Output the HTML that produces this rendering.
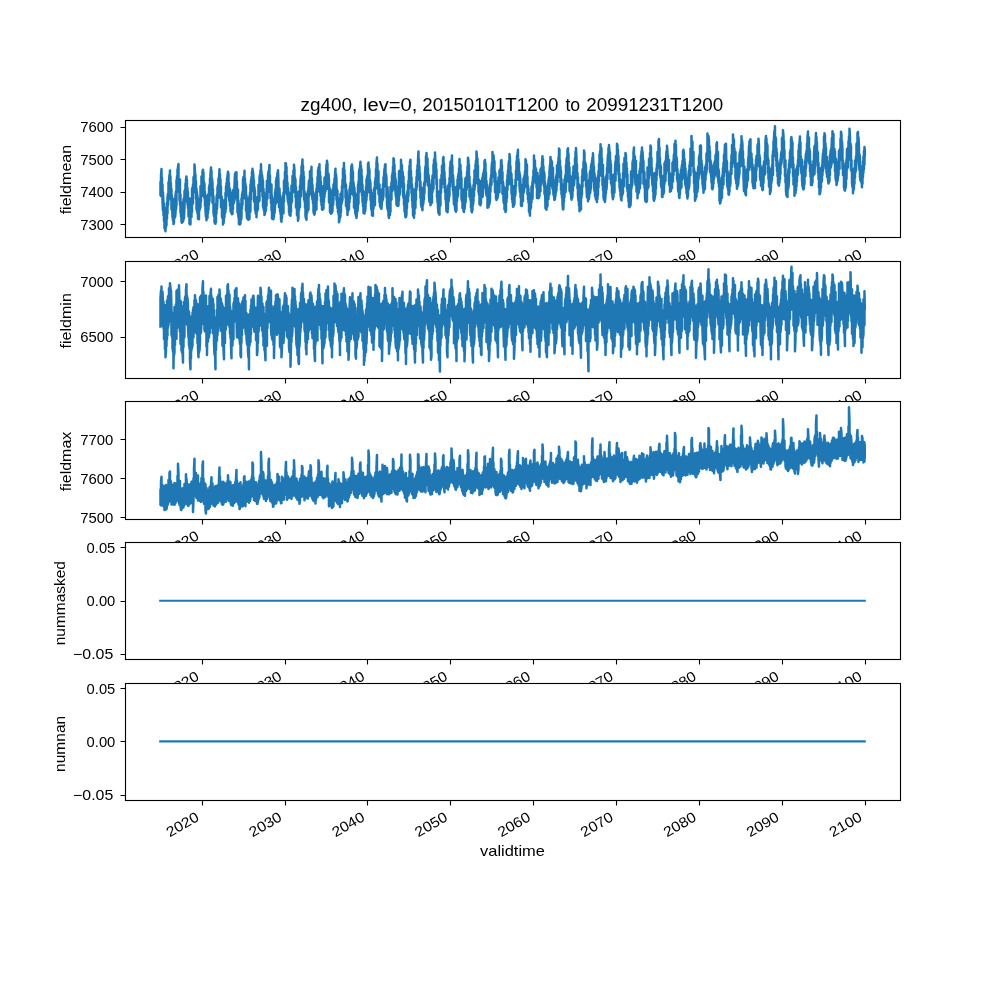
<!DOCTYPE html>
<html lang="en"><head><meta charset="utf-8"><title>zg400 field statistics</title>
<style>
html,body{margin:0;padding:0;background:#fff;}
body{width:1000px;height:1000px;overflow:hidden;font-family:"Liberation Sans",sans-serif;}
svg{display:block;}
svg text{font-family:"Liberation Sans",sans-serif;fill:#000;filter:grayscale(1);}
.t{font-size:14.3px;}
.ti{font-size:17.6px;}
.sp{fill:none;stroke:#000;stroke-width:1.111;stroke-linejoin:miter;}
.tk{stroke:#000;stroke-width:1.111;fill:none;}
.ln{fill:none;stroke:#1f77b4;stroke-width:2.083;stroke-linejoin:round;stroke-linecap:square;}
</style></head>
<body>
<svg width="1000" height="1000" viewBox="0 0 1000 1000">
<rect width="1000" height="1000" fill="#fff"/>
<g id="ax0">
<rect x="125.0" y="120.00" width="775.0" height="117.24" fill="#fff"/>
<path class="ln" style="stroke-width:2.5" d="M160.48,194.6 160.48,181.9 160.99,195.9 160.99,175.5 161.49,169 161.49,185.2 161.99,177.8 161.99,193.7 162.49,184.4 162.49,201.1 162.98,210.5 162.98,192.3 163.48,202.9 163.48,215.2 163.98,203.7 163.98,221.1 164.48,207.6 164.48,228.1 164.98,210.9 164.98,229 165.48,231.2 165.48,221.4 165.98,227.2 165.98,217.1 166.48,225.3 166.48,208.6 166.98,218.7 166.98,202.6 167.48,213.5 167.48,197.4 167.98,193.7 167.98,205.7 168.48,197.8 168.48,182.4 168.98,196.8 168.98,182.1 169.48,175 169.48,189.6 169.97,170.5 169.97,189.6 170.47,176.6 170.47,191.4 170.97,183.5 170.97,199.8 171.47,189.2 171.47,208.9 171.97,210.4 171.97,196 172.47,217.2 172.47,201.5 172.97,220.5 172.97,207.7 173.47,209.5 173.47,224 173.97,222.5 173.97,205.6 174.47,215.1 174.47,198.7 174.97,202.4 174.97,217.6 175.47,214.1 175.47,196.3 175.98,191.2 175.98,209.9 176.49,203.8 176.49,180.1 176.99,190.6 176.99,176.5 177.49,187.2 177.49,169.6 177.99,184.7 177.99,166.9 178.48,164.1 178.48,189.2 178.98,181.3 178.98,192.3 179.48,183.1 179.48,200.5 179.98,179.5 179.98,204.8 180.48,194.5 180.48,212.6 180.98,202.3 180.98,216.7 181.48,206.1 181.48,222 181.98,222.8 181.98,207.3 182.48,220.2 182.48,203.1 182.98,221.4 182.98,206.6 183.48,219.9 183.48,199.8 183.98,198 183.98,218.1 184.48,206.3 184.48,191.3 184.98,201.8 184.98,190.1 185.47,193.6 185.47,183.8 185.97,191.8 185.97,179.9 186.47,176.5 186.47,195.7 186.97,180 186.97,201.6 187.47,188.1 187.47,204.6 187.97,192 187.97,208.1 188.47,200.4 188.47,216.2 188.97,198.2 188.97,214.9 189.47,205.7 189.47,223.8 189.97,219.4 189.97,208.9 190.47,224.4 190.47,206.2 190.97,217.3 190.97,198.6 191.48,217 191.48,198.5 191.99,212.2 191.99,189.1 192.49,202 192.49,187.5 192.99,203.4 192.99,184.6 193.49,192.8 193.49,177.2 193.99,191.2 193.99,176.2 194.48,176.5 194.48,164.5 194.98,171.1 194.98,183.2 195.48,174.7 195.48,189.9 195.98,181.2 195.98,198.8 196.48,188.5 196.48,208.2 196.98,211.2 196.98,192 197.48,213.1 197.48,195.8 197.98,218.7 197.98,204.7 198.48,201.6 198.48,217.6 198.98,219.2 198.98,199.1 199.48,198.9 199.48,210.4 199.98,199.3 199.98,208.6 200.48,206.6 200.48,186.2 200.97,201.7 200.97,188.4 201.47,196.3 201.47,176.6 201.97,182.3 201.97,192.7 202.47,186.5 202.47,171.6 202.97,169.8 202.97,185.9 203.47,172.6 203.47,196.1 203.97,181.7 203.97,195.2 204.47,183.7 204.47,198.4 204.97,191.9 204.97,206.2 205.47,198.4 205.47,210.1 205.97,216.9 205.97,195.7 206.47,205.8 206.47,220.2 206.98,201.4 206.98,218.5 207.49,217.9 207.49,203.3 207.99,213.3 207.99,195 208.49,209.8 208.49,194.1 208.99,204.7 208.99,187.2 209.49,201.2 209.49,184.7 209.98,195.4 209.98,178.4 210.48,195.3 210.48,174.2 210.98,167.5 210.98,185.5 211.48,170.5 211.48,182.7 211.98,195.1 211.98,178.7 212.48,183.6 212.48,202.7 212.98,189.3 212.98,202.1 213.48,196.5 213.48,211.6 213.98,216.1 213.98,204.6 214.48,208.6 214.48,221.9 214.98,223.3 214.98,210.9 215.48,223.7 215.48,205.5 215.98,222 215.98,203.8 216.48,213.6 216.48,198.6 216.97,194.7 216.97,209.1 217.47,200.2 217.47,187.9 217.97,185.1 217.97,198 218.47,193.1 218.47,178.6 218.97,189.3 218.97,179.9 219.47,169.3 219.47,187.8 219.97,174.3 219.97,191.2 220.47,179.5 220.47,198.5 220.97,186.6 220.97,207.2 221.47,205.8 221.47,196.3 221.97,199.3 221.97,217 222.47,206 222.47,218.3 222.98,207.8 222.98,224.4 223.49,211.6 223.49,223.3 223.99,218.8 223.99,209.3 224.49,217 224.49,200.1 224.99,202.5 224.99,213.4 225.48,211.2 225.48,193 225.98,208.8 225.98,186.6 226.48,193.8 226.48,183.2 226.98,195.6 226.98,178.5 227.48,189.8 227.48,176.7 227.98,171.7 227.98,189.3 228.48,173.5 228.48,191.9 228.98,182.9 228.98,197.9 229.48,201.4 229.48,188 229.98,206 229.98,189.4 230.48,196.5 230.48,210.9 230.98,192.8 230.98,212.4 231.48,198.5 231.48,210.6 231.98,197.8 231.98,214.2 232.47,214 232.47,197.5 232.97,209.2 232.97,190.9 233.47,189.9 233.47,203.6 233.97,189.1 233.97,202.8 234.47,198.8 234.47,186.4 234.97,174.4 234.97,195.3 235.47,189.5 235.47,172.8 235.97,186.9 235.97,175.4 236.47,172.3 236.47,195.7 236.97,181.2 236.97,199.9 237.47,190.9 237.47,212.4 237.97,189.6 237.97,210.8 238.48,217.5 238.48,200.7 238.99,224.1 238.99,206.3 239.49,221.2 239.49,204.3 239.99,212.4 239.99,224.4 240.49,223.6 240.49,207.9 240.99,204.7 240.99,220.2 241.48,217.6 241.48,198.5 241.98,208.4 241.98,194.4 242.48,204.7 242.48,191.9 242.98,198.5 242.98,179.1 243.48,195 243.48,177 243.98,177 243.98,188.5 244.48,170.8 244.48,186.9 244.98,178.3 244.98,194.4 245.48,183.7 245.48,199.3 245.98,186.6 245.98,210.4 246.48,195.5 246.48,209.4 246.98,218.3 246.98,197.9 247.48,200.7 247.48,215.3 247.97,219.5 247.97,203.9 248.47,201.8 248.47,219.8 248.97,204.1 248.97,213.2 249.47,218.9 249.47,196.3 249.97,206.9 249.97,192.8 250.47,211.6 250.47,184.6 250.97,199.6 250.97,180.2 251.47,189.5 251.47,177.2 251.97,190.7 251.97,171.6 252.47,181 252.47,168.7 252.97,186.4 252.97,171.3 253.47,177.3 253.47,191.4 253.98,180.4 253.98,201.5 254.49,187.5 254.49,198.2 254.99,190.4 254.99,209.7 255.49,196.9 255.49,211.6 255.99,213.9 255.99,201.5 256.49,201.8 256.49,217.2 256.98,197.5 256.98,211.6 257.48,210.5 257.48,202.2 257.98,209.1 257.98,196.9 258.48,201.9 258.48,184.7 258.98,186.8 258.98,201.5 259.48,200.3 259.48,178 259.98,174.4 259.98,185.6 260.48,183.2 260.48,170.2 260.98,179.1 260.98,164.2 261.48,187.5 261.48,171.4 261.98,191.5 261.98,175 262.48,178.7 262.48,196.5 262.98,180.5 262.98,206.7 263.48,188.8 263.48,208.4 263.97,192.6 263.97,210.7 264.47,198.1 264.47,215 264.97,214.1 264.97,198.5 265.47,194.7 265.47,211.4 265.97,210.2 265.97,195.2 266.47,205.7 266.47,195.5 266.97,180.7 266.97,199.5 267.47,198.1 267.47,181.2 267.97,192.6 267.97,176.5 268.47,171.6 268.47,185.4 268.97,182.9 268.97,170.5 269.47,165 269.47,182.7 269.98,175.8 269.98,191.6 270.49,185.2 270.49,198.3 270.99,186.7 270.99,203 271.49,184.5 271.49,210.2 271.99,196.1 271.99,218.5 272.48,205.9 272.48,218.3 272.98,218.9 272.98,207.7 273.48,204.7 273.48,219.2 273.98,199.8 273.98,216.9 274.48,198.5 274.48,213.3 274.98,206.6 274.98,192.4 275.48,202 275.48,189.2 275.98,203.4 275.98,180.7 276.48,195 276.48,177.8 276.98,190.5 276.98,180.4 277.48,172.7 277.48,187.4 277.98,188.6 277.98,170.2 278.48,182.5 278.48,202.5 278.98,190.4 278.98,206.9 279.47,205.1 279.47,188.5 279.97,211 279.97,194.3 280.47,199.6 280.47,213.7 280.97,204 280.97,219.8 281.47,221.7 281.47,207.7 281.97,218.1 281.97,198.9 282.47,209.3 282.47,199.8 282.97,210.1 282.97,196.1 283.47,213.3 283.47,192.7 283.97,201.7 283.97,180.4 284.47,193.5 284.47,181.5 284.97,189.6 284.97,172 285.48,181.2 285.48,163 285.99,163.8 285.99,184.7 286.49,167 286.49,188.5 286.99,175.9 286.99,194.7 287.49,182.8 287.49,196.6 287.98,201.9 287.98,187.6 288.48,192.7 288.48,204.4 288.98,199 288.98,211.9 289.48,203.6 289.48,214.8 289.98,214 289.98,199.8 290.48,215.7 290.48,196 290.98,211.7 290.98,192.6 291.48,203.1 291.48,185.4 291.98,201.5 291.98,185.9 292.48,189.2 292.48,176 292.98,177.7 292.98,192.2 293.48,183.3 293.48,170.6 293.98,178.3 293.98,164.8 294.48,170.2 294.48,182.2 294.97,177.6 294.97,191.8 295.47,179.4 295.47,197.2 295.97,187.2 295.97,207.5 296.47,207.7 296.47,191.7 296.97,201.7 296.97,215.3 297.47,206.3 297.47,212.6 297.97,200.4 297.97,220.7 298.47,218.3 298.47,199.7 298.97,210.4 298.97,191.3 299.47,207.5 299.47,195.5 299.97,207.2 299.97,185.7 300.47,195.5 300.47,180.6 300.98,175.4 300.98,196.2 301.49,185.4 301.49,166.5 301.99,182.1 301.99,166.4 302.49,159.4 302.49,179 302.99,165.6 302.99,182.8 303.49,171.8 303.49,188.2 303.98,176.8 303.98,199.3 304.48,191.2 304.48,201.2 304.98,193.5 304.98,207.7 305.48,193.8 305.48,215.8 305.98,218.6 305.98,206.8 306.48,219.8 306.48,203.4 306.98,198.8 306.98,213.5 307.48,210.5 307.48,195.8 307.98,190.3 307.98,206.5 308.48,209.7 308.48,188.6 308.98,180.5 308.98,196.1 309.48,181.5 309.48,194.3 309.98,186.4 309.98,171.3 310.48,181.1 310.48,171.8 310.97,170.6 310.97,186.1 311.47,166.8 311.47,192.6 311.97,178.2 311.97,195 312.47,199.5 312.47,184.7 312.97,203.3 312.97,191.8 313.47,197.5 313.47,211 313.97,213.8 313.97,197.3 314.47,201.3 314.47,214.7 314.97,210.9 314.97,200.7 315.47,209.8 315.47,196.2 315.97,192 315.97,204.4 316.47,209.5 316.47,188.8 316.98,199.9 316.98,183.7 317.49,191.7 317.49,177.3 317.99,190.6 317.99,170.2 318.49,181.8 318.49,167.9 318.99,166.9 318.99,183.7 319.48,164.2 319.48,184.9 319.98,172 319.98,192.4 320.48,176.3 320.48,195.7 320.98,182 320.98,201.6 321.48,189 321.48,205.1 321.98,191.1 321.98,209.6 322.48,209.7 322.48,195.3 322.98,194.5 322.98,209.5 323.48,208.2 323.48,185.9 323.98,202.2 323.98,189.5 324.48,197.2 324.48,177.8 324.98,193.5 324.98,183.7 325.48,191.1 325.48,176.7 325.98,189.2 325.98,174.4 326.47,164.5 326.47,180.1 326.97,177.3 326.97,160.8 327.47,164.4 327.47,177.4 327.97,173 327.97,188.8 328.47,186.3 328.47,173.9 328.97,179.5 328.97,202.2 329.47,187.6 329.47,203 329.97,189.2 329.97,211.5 330.47,212.8 330.47,196.6 330.97,213.8 330.97,200.7 331.47,197 331.47,213.3 331.97,212.7 331.97,194.4 332.48,211 332.48,190.9 332.99,188.6 332.99,205.5 333.49,199.2 333.49,184.8 333.99,183.5 333.99,195.3 334.49,178.5 334.49,195.1 334.98,188.9 334.98,175 335.48,168.7 335.48,190.1 335.98,190.5 335.98,174.2 336.48,179.8 336.48,199.7 336.98,189.6 336.98,205.4 337.48,190.7 337.48,207.9 337.98,198.1 337.98,211.9 338.48,200.3 338.48,214 338.98,205.2 338.98,222.2 339.48,220.1 339.48,208.2 339.98,206.4 339.98,218 340.48,216.2 340.48,194.1 340.98,211.9 340.98,195.2 341.48,204.1 341.48,192.3 341.97,202.5 341.97,186.3 342.47,200 342.47,180 342.97,187.3 342.97,169 343.47,168 343.47,184.9 343.97,163 343.97,179.7 344.47,170 344.47,182.5 344.97,175.3 344.97,187.7 345.47,183.6 345.47,197.5 345.97,185 345.97,205.8 346.47,206.5 346.47,190.1 346.97,194.6 346.97,209.5 347.47,199.5 347.47,215 347.98,197.5 347.98,211.7 348.49,208.1 348.49,195.9 348.99,209.2 348.99,197.9 349.49,202.6 349.49,189.3 349.99,198.7 349.99,186.6 350.49,193.7 350.49,182.8 350.98,194 350.98,173.6 351.48,165.7 351.48,182.9 351.98,181.6 351.98,164.5 352.48,170.6 352.48,182.8 352.98,172.3 352.98,191.2 353.48,195.9 353.48,182.3 353.98,187.4 353.98,207.6 354.48,188 354.48,207.9 354.98,192.4 354.98,208.9 355.48,214.1 355.48,202.3 355.98,215.9 355.98,201.3 356.48,199.2 356.48,218 356.98,212.4 356.98,196.7 357.48,194 357.48,211.3 357.97,205.2 357.97,185 358.47,203.7 358.47,181.4 358.97,191.4 358.97,172.3 359.47,169.1 359.47,191.7 359.97,182.4 359.97,167.3 360.47,161.8 360.47,183.4 360.97,166.1 360.97,185.2 361.47,169.2 361.47,189.8 361.97,176.3 361.97,195.6 362.47,184.6 362.47,202 362.97,190.3 362.97,206.1 363.47,194.9 363.47,212.9 363.98,192.1 363.98,212.9 364.49,213.5 364.49,200.6 364.99,196.4 364.99,211.5 365.49,207.9 365.49,194.1 365.99,202.8 365.99,187 366.48,200 366.48,179.5 366.98,196.1 366.98,177.3 367.48,192 367.48,175.2 367.98,186.5 367.98,164.1 368.48,184.5 368.48,162.6 368.98,183.3 368.98,167.9 369.48,170.7 369.48,192.2 369.98,192.9 369.98,179.9 370.48,183.7 370.48,200 370.98,189.8 370.98,205.5 371.48,210 371.48,193.8 371.98,195.3 371.98,215.3 372.48,203.2 372.48,215.6 372.98,215.7 372.98,201.2 373.47,208.5 373.47,192.7 373.97,204.6 373.97,189.3 374.47,199.2 374.47,187.6 374.97,205.2 374.97,181.6 375.47,188.3 375.47,177.9 375.97,188.2 375.97,168.9 376.47,182.1 376.47,163.2 376.97,157.5 376.97,174.1 377.47,163.7 377.47,181.9 377.97,189.5 377.97,171.5 378.47,171.2 378.47,193.2 378.97,195.1 378.97,184.8 379.48,184.4 379.48,202.3 379.99,189.5 379.99,206.4 380.49,192 380.49,205.2 380.99,195.6 380.99,208.5 381.49,191.8 381.49,208.7 381.98,200.5 381.98,189.5 382.48,189.7 382.48,201 382.98,184.2 382.98,199.2 383.48,194.7 383.48,177.6 383.98,186.9 383.98,176.1 384.48,168.8 384.48,184.8 384.98,164.8 384.98,182.6 385.48,164.2 385.48,180.9 385.98,185.5 385.98,174.1 386.48,178.2 386.48,197 386.98,187 386.98,203.8 387.48,208.9 387.48,187.1 387.98,196.4 387.98,210.5 388.48,200.6 388.48,215.3 388.97,218 388.97,202.6 389.47,215.6 389.47,198.1 389.97,214.9 389.97,198.1 390.47,211.7 390.47,187.1 390.97,200.3 390.97,186.3 391.47,199.5 391.47,182.5 391.97,190.6 391.97,175.7 392.47,190.7 392.47,172.9 392.97,181.3 392.97,166.8 393.47,172.5 393.47,158.2 393.97,159.6 393.97,178.2 394.47,164.9 394.47,189.1 394.98,173.3 394.98,189.8 395.49,178.3 395.49,191.7 395.99,197.6 395.99,181.1 396.49,204.6 396.49,187.9 396.99,205.5 396.99,193.3 397.49,191.4 397.49,204.4 397.98,206 397.98,191.2 398.48,205.5 398.48,186.3 398.98,200.7 398.98,171.2 399.48,177.1 399.48,195.4 399.98,191.7 399.98,170.5 400.48,185.7 400.48,171.5 400.98,181.9 400.98,159.7 401.48,168.4 401.48,178.5 401.98,165.3 401.98,175.3 402.48,187.5 402.48,171.4 402.98,176 402.98,195.6 403.48,176.5 403.48,197.9 403.98,184.1 403.98,204.7 404.47,195.7 404.47,211.2 404.97,196.5 404.97,212.1 405.47,217.2 405.47,202.4 405.97,203.9 405.97,217.1 406.47,214.3 406.47,198.3 406.97,208.3 406.97,193.6 407.47,201.8 407.47,191.1 407.97,201.5 407.97,185.1 408.47,195.9 408.47,181.1 408.97,188.4 408.97,171.2 409.47,180.8 409.47,166 409.97,176.2 409.97,162.1 410.47,159.7 410.47,184.8 410.98,171 410.98,186.8 411.49,177.4 411.49,193.2 411.99,184.8 411.99,200.6 412.49,187.9 412.49,207.4 412.99,198.7 412.99,215.6 413.48,215.1 413.48,199.6 413.98,217.7 413.98,199.4 414.48,214.1 414.48,195.1 414.98,189.5 414.98,207.8 415.48,207.8 415.48,189.1 415.98,199.4 415.98,183 416.48,189.5 416.48,177.3 416.98,186.5 416.98,169.9 417.48,180.3 417.48,165.3 417.98,174.8 417.98,160 418.48,151.5 418.48,166.3 418.98,159.4 418.98,179.3 419.48,166.7 419.48,177.6 419.98,173.3 419.98,190.8 420.47,181.4 420.47,198 420.97,186.9 420.97,203.5 421.47,206.9 421.47,190 421.97,195.1 421.97,207.1 422.47,210.2 422.47,192.2 422.97,190.9 422.97,205.4 423.47,201.9 423.47,187.8 423.97,199.4 423.97,183.8 424.47,192.9 424.47,182 424.97,185.2 424.97,173.9 425.47,166.4 425.47,180.1 425.97,175.1 425.97,156.3 426.48,171.4 426.48,153 426.99,169.9 426.99,158.2 427.49,158.5 427.49,182.3 427.99,168.3 427.99,185.8 428.49,186.1 428.49,174.7 428.98,179.7 428.98,196.2 429.48,201.9 429.48,184.3 429.98,202 429.98,188.3 430.48,189.7 430.48,205.2 430.98,203.1 430.98,186.9 431.48,186.3 431.48,199 431.98,202.7 431.98,180.1 432.48,192.3 432.48,175.7 432.98,189.7 432.98,175.5 433.48,188.7 433.48,164.7 433.98,177.5 433.98,160 434.48,174.4 434.48,158.8 434.98,170.9 434.98,152.5 435.48,163.7 435.48,174.7 435.97,163.3 435.97,178.2 436.47,169.6 436.47,184.4 436.97,179.8 436.97,197.5 437.47,190.7 437.47,202.4 437.97,197.1 437.97,207.2 438.47,213 438.47,196.9 438.97,197.4 438.97,213.6 439.47,214.7 439.47,199.7 439.97,191.1 439.97,206.2 440.47,204.9 440.47,179.4 440.97,192.9 440.97,182.7 441.47,187.9 441.47,175 441.98,184.2 441.98,165.8 442.49,179.4 442.49,166 442.99,173.6 442.99,159 443.49,157 443.49,174.3 443.99,163.6 443.99,183.3 444.49,172 444.49,187.6 444.98,178.9 444.98,192 445.48,186 445.48,199.2 445.98,193.8 445.98,201.5 446.48,211.2 446.48,196.5 446.98,211.5 446.98,198.9 447.48,197 447.48,212.3 447.98,206.3 447.98,188.9 448.48,185 448.48,201.9 448.98,197.6 448.98,183.8 449.48,195.8 449.48,178.1 449.98,186.6 449.98,167.3 450.48,181.4 450.48,161.7 450.98,177 450.98,163.5 451.47,160.1 451.47,175.7 451.97,155.5 451.97,176.1 452.47,166.1 452.47,180.3 452.97,190.1 452.97,175 453.47,181.5 453.47,192.1 453.97,204.5 453.97,190.2 454.47,186.7 454.47,201.5 454.97,192.7 454.97,208.2 455.47,210.7 455.47,198.7 455.97,211.7 455.97,193.3 456.47,210.2 456.47,189.6 456.97,201.2 456.97,186.3 457.48,197.3 457.48,179.7 457.99,195.8 457.99,176.3 458.49,189.5 458.49,173.5 458.99,184.4 458.99,168.8 459.49,179.2 459.49,159 459.99,180 459.99,167.6 460.48,164.9 460.48,180.2 460.98,171.5 460.98,187.9 461.48,177.9 461.48,198.2 461.98,201.2 461.98,189.2 462.48,193.2 462.48,208.1 462.98,206.5 462.98,190.3 463.48,193.8 463.48,211 463.98,212 463.98,194.6 464.48,188.4 464.48,209.3 464.98,205.1 464.98,184.9 465.48,178.3 465.48,202.6 465.98,195.3 465.98,179.2 466.48,177.1 466.48,190 466.98,185.4 466.98,172.3 467.47,184.7 467.47,166.8 467.97,176.3 467.97,157.8 468.47,160.6 468.47,175.7 468.97,165.1 468.97,187 469.47,176.6 469.47,196.7 469.97,184 469.97,195.6 470.47,186.5 470.47,200.4 470.97,192.3 470.97,207.6 471.47,193.6 471.47,210.8 471.97,212.3 471.97,198.1 472.47,210.2 472.47,201.7 472.97,188.8 472.97,204.9 473.48,200.9 473.48,185.1 473.99,196 473.99,179.5 474.49,190 474.49,170.2 474.99,186.6 474.99,170.7 475.49,183.4 475.49,164.2 475.98,175.1 475.98,160.5 476.48,170.6 476.48,151.5 476.98,158.5 476.98,174.1 477.48,158.7 477.48,175 477.98,165.4 477.98,183.9 478.48,179.2 478.48,192 478.98,180 478.98,195 479.48,189.8 479.48,204 479.98,190.9 479.98,204.6 480.48,205.2 480.48,190.1 480.98,203.4 480.98,180.9 481.48,196.5 481.48,183.8 481.98,195.4 481.98,182.5 482.48,177.6 482.48,197.1 482.97,192.5 482.97,174.5 483.47,188.1 483.47,172.7 483.97,179.5 483.97,169.7 484.47,180.6 484.47,161.2 484.97,160 484.97,179.2 485.47,163.2 485.47,185.9 485.97,172.7 485.97,190.3 486.47,195.7 486.47,180.9 486.97,195 486.97,184.7 487.47,188.2 487.47,207.8 487.97,203.8 487.97,188.6 488.47,207.2 488.47,191.3 488.98,205.2 488.98,189.2 489.49,189 489.49,203.9 489.99,199.8 489.99,183.9 490.49,191.8 490.49,179 490.99,185.7 490.99,175.4 491.49,184.6 491.49,170 491.98,162.6 491.98,176.7 492.48,169.7 492.48,152.1 492.98,174.3 492.98,156.2 493.48,173.9 493.48,155.2 493.98,162.5 493.98,177.5 494.48,161.3 494.48,182.2 494.98,171.7 494.98,192.1 495.48,173.5 495.48,188 495.98,181.4 495.98,198.7 496.48,181.2 496.48,200 496.98,198 496.98,187.4 497.48,198.3 497.48,184 497.98,195.9 497.98,181.5 498.47,191.5 498.47,177.3 498.97,177 498.97,191.7 499.47,192.2 499.47,170.5 499.97,180.8 499.97,170.6 500.47,182.9 500.47,168.4 500.97,173.4 500.97,161 501.47,160 501.47,176.3 501.97,165.3 501.97,179.8 502.47,172.2 502.47,193.8 502.97,192.4 502.97,181.9 503.47,186.3 503.47,201.9 503.97,187.2 503.97,203.5 504.48,193.9 504.48,209.3 504.99,209.8 504.99,195.3 505.49,191.9 505.49,212 505.99,210.6 505.99,188.6 506.49,202.1 506.49,187.2 506.99,197.9 506.99,180.1 507.48,189.9 507.48,175.1 507.98,185 507.98,170.3 508.48,184.7 508.48,165.6 508.98,161.1 508.98,175.2 509.48,168.4 509.48,154 509.98,159.6 509.98,175.6 510.48,166.2 510.48,180.7 510.98,172.9 510.98,184.4 511.48,174.1 511.48,193.6 511.98,179.7 511.98,199.2 512.48,189 512.48,202.6 512.98,191.3 512.98,206.7 513.48,189.9 513.48,206.5 513.98,186 513.98,205.2 514.47,203.3 514.47,186.2 514.97,185.2 514.97,196.5 515.47,193.5 515.47,179.6 515.97,186.4 515.97,170.5 516.47,180 516.47,161.6 516.97,177.4 516.97,156 517.47,167.6 517.47,154.5 517.97,149.8 517.97,165.6 518.47,159.6 518.47,175.7 518.97,162.9 518.97,179.9 519.47,171.9 519.47,185.4 519.97,192.1 519.97,174.8 520.48,182.3 520.48,197.1 520.99,188.1 520.99,205.7 521.49,206 521.49,189.5 521.99,205.7 521.99,189.5 522.49,200.2 522.49,184.7 522.98,201.1 522.98,185.9 523.48,192.9 523.48,178.7 523.98,191.8 523.98,177.4 524.48,188.5 524.48,175.5 524.98,182.1 524.98,171.3 525.48,179.7 525.48,159.3 525.98,160.7 525.98,173.4 526.48,164.1 526.48,174.9 526.98,165 526.98,187.1 527.48,176.8 527.48,194.3 527.98,185.4 527.98,199.5 528.48,188.6 528.48,202.7 528.98,193 528.98,211.5 529.48,196.4 529.48,211.5 529.97,215.7 529.97,197.9 530.47,209.3 530.47,196.9 530.97,207.8 530.97,194.6 531.47,202.4 531.47,186.7 531.97,185.9 531.97,196 532.47,181.8 532.47,198.7 532.97,176.8 532.97,185.8 533.47,181.1 533.47,170.3 533.97,180.2 533.97,155.5 534.47,173.2 534.47,160.4 534.97,160.4 534.97,170.9 535.47,167.4 535.47,179.7 535.98,183.1 535.98,169.1 536.49,173.9 536.49,187.3 536.99,176.7 536.99,197.9 537.49,172.9 537.49,194.8 537.99,195.1 537.99,184.6 538.49,186.1 538.49,198.2 538.98,197.7 538.98,181.7 539.48,196 539.48,181.6 539.98,176.1 539.98,190.2 540.48,191.4 540.48,170.2 540.98,168.4 540.98,184.7 541.48,178.4 541.48,168.6 541.98,176 541.98,163.7 542.48,156.3 542.48,172.6 542.98,159.3 542.98,179.1 543.48,166.5 543.48,179.2 543.98,186.4 543.98,171.8 544.48,174.7 544.48,193.1 544.98,195.1 544.98,181.9 545.47,208.3 545.47,189.1 545.97,191.3 545.97,206.4 546.47,209.7 546.47,193.5 546.97,191.5 546.97,207.2 547.47,205.8 547.47,186.3 547.97,198.6 547.97,184 548.47,199 548.47,179.9 548.97,193.6 548.97,177.1 549.47,194.3 549.47,171.9 549.97,165.1 549.97,185.9 550.47,157 550.47,174 550.97,159.8 550.97,172.3 551.48,160.7 551.48,181.6 551.99,162.2 551.99,182.4 552.49,188.7 552.49,168.3 552.99,167.8 552.99,185.8 553.49,194.6 553.49,179.7 553.99,182.1 553.99,195.8 554.48,200 554.48,186.1 554.98,199.2 554.98,184.9 555.48,195.9 555.48,184.2 555.98,192.6 555.98,176.9 556.48,190.4 556.48,174.5 556.98,185.5 556.98,165.5 557.48,182.1 557.48,166.1 557.98,177.3 557.98,162.2 558.48,170.9 558.48,157.4 558.98,177 558.98,148.5 559.48,149.7 559.48,171.4 559.98,160.6 559.98,172.2 560.48,166.6 560.48,182.3 560.98,170.6 560.98,190.1 561.47,179.3 561.47,194.2 561.97,184.1 561.97,197.5 562.47,191.9 562.47,203.8 562.97,209.4 562.97,197.3 563.47,208.9 563.47,195.1 563.97,201.7 563.97,191 564.47,197.1 564.47,180.1 564.97,191.8 564.97,178.4 565.47,175.1 565.47,192.3 565.97,185.2 565.97,165.3 566.47,178.3 566.47,159.9 566.97,157.3 566.97,170.1 567.48,162.4 567.48,149.9 567.99,148.3 567.99,167.6 568.49,153.9 568.49,181.8 568.99,162.4 568.99,174.8 569.49,167.6 569.49,190.8 569.98,175.6 569.98,189 570.48,177.1 570.48,193 570.98,183.3 570.98,194.1 571.48,199.7 571.48,182.6 571.98,187.2 571.98,198.5 572.48,195.8 572.48,176.3 572.98,190.8 572.98,172.3 573.48,185.6 573.48,166.6 573.98,168.5 573.98,185.5 574.48,178.5 574.48,165.8 574.98,173.6 574.98,158.3 575.48,168 575.48,151.8 575.98,161.1 575.98,148 576.48,157.8 576.48,172.9 576.97,164.2 576.97,178.8 577.47,173 577.47,188.2 577.97,177.5 577.97,194.9 578.47,200.8 578.47,187.4 578.97,184.2 578.97,205.6 579.47,196 579.47,211.2 579.97,195.8 579.97,209.6 580.47,207.2 580.47,194.9 580.97,209.4 580.97,186.9 581.47,197.8 581.47,185.6 581.97,194.4 581.97,176.4 582.47,187.1 582.47,170 582.98,168.7 582.98,181.1 583.49,177 583.49,161.8 583.99,172.2 583.99,150.6 584.49,153 584.49,169.7 584.99,161.9 584.99,170.7 585.48,180.3 585.48,163.2 585.98,167.5 585.98,186.2 586.48,173.6 586.48,187.9 586.98,197.1 586.98,183.8 587.48,196.8 587.48,182.6 587.98,184.2 587.98,201.2 588.48,184 588.48,197.9 588.98,180.2 588.98,199.3 589.48,189.9 589.48,180.2 589.98,171.4 589.98,193.5 590.48,190.4 590.48,170.5 590.98,188.5 590.98,166.8 591.48,163.8 591.48,177.7 591.98,160.7 591.98,173.4 592.47,157.5 592.47,170.9 592.97,175.4 592.97,153.3 593.47,165.3 593.47,181.3 593.97,167.1 593.97,183.4 594.47,190.8 594.47,173.4 594.97,180.9 594.97,195.7 595.47,179.1 595.47,197.5 595.97,183.4 595.97,199.6 596.47,197.2 596.47,182.3 596.97,201.9 596.97,184.3 597.47,198.9 597.47,177.8 597.97,195.2 597.97,175.8 598.48,187.4 598.48,171 598.99,181.5 598.99,164 599.49,176.1 599.49,154.4 599.99,173 599.99,151.5 600.49,161.6 600.49,144.3 600.99,162.5 600.99,147.5 601.48,148.6 601.48,171.7 601.98,158.6 601.98,175.9 602.48,167.7 602.48,185.3 602.98,165.1 602.98,190.3 603.48,177 603.48,197 603.98,199.7 603.98,185.7 604.48,200.5 604.48,179.9 604.98,185.7 604.98,201.9 605.48,195.6 605.48,181.7 605.98,193.2 605.98,179.3 606.48,175.1 606.48,189.6 606.98,182.5 606.98,168 607.48,179.1 607.48,164 607.98,154.5 607.98,168 608.47,172.2 608.47,148 608.97,162.8 608.97,145 609.47,151.7 609.47,165.1 609.97,152.6 609.97,172.1 610.47,160.6 610.47,179.2 610.97,164.4 610.97,183.2 611.47,174.5 611.47,184.9 611.97,176 611.97,193.1 612.47,181.6 612.47,195.8 612.97,199.2 612.97,184.1 613.47,197.1 613.47,179.1 613.97,191.9 613.97,174.4 614.48,192.5 614.48,174.3 614.99,178.2 614.99,169.3 615.49,161.6 615.49,180.6 615.99,156 615.99,170.7 616.49,157.9 616.49,168.3 616.98,166.6 616.98,143.8 617.48,145.3 617.48,161.6 617.98,149.9 617.98,163.8 618.48,156.2 618.48,174.5 618.98,164.4 618.98,181.4 619.48,173.6 619.48,187.6 619.98,179 619.98,191 620.48,184.9 620.48,195.7 620.98,187.3 620.98,199.1 621.48,200.4 621.48,185.7 621.98,186.5 621.98,196.3 622.48,179.7 622.48,194.3 622.98,192.6 622.98,172.9 623.48,186.5 623.48,163.6 623.97,163.5 623.97,186.3 624.47,158 624.47,177.5 624.97,172.1 624.97,160.6 625.47,171.9 625.47,153 625.97,155.4 625.97,169 626.47,162.7 626.47,175.9 626.97,168.2 626.97,188 627.47,174.5 627.47,191.1 627.97,185.2 627.97,197 628.47,185 628.47,201.5 628.97,190.2 628.97,206.7 629.47,207.2 629.47,189 629.98,188.2 629.98,200.5 630.49,185 630.49,205.5 630.99,196.8 630.99,171.5 631.49,188.8 631.49,174 631.99,170.8 631.99,186.1 632.48,182 632.48,163.3 632.98,160 632.98,177.8 633.48,172.8 633.48,152.3 633.98,147.6 633.98,164.4 634.48,155.8 634.48,170.1 634.98,156.9 634.98,172.6 635.48,184.7 635.48,165.8 635.98,161 635.98,180.5 636.48,177.2 636.48,191.4 636.98,175.1 636.98,188.9 637.48,183.9 637.48,198.2 637.98,182 637.98,194.7 638.48,191.3 638.48,181.3 638.98,192.2 638.98,174.4 639.47,187.9 639.47,171.3 639.97,188.2 639.97,168.6 640.47,183.7 640.47,162.5 640.97,170.7 640.97,155.4 641.47,171.6 641.47,151.5 641.97,163.9 641.97,147.6 642.47,164.5 642.47,151.5 642.97,158.8 642.97,172.8 643.47,161.1 643.47,183.9 643.97,184.1 643.97,171.1 644.47,172.5 644.47,187.8 644.97,180 644.97,197 645.48,201.3 645.48,183.5 645.99,184 645.99,200.4 646.49,183.3 646.49,201.9 646.99,200.1 646.99,183.6 647.49,189.3 647.49,167.6 647.99,187 647.99,175.3 648.48,187.2 648.48,171.8 648.98,177.9 648.98,159.5 649.48,158.3 649.48,171.4 649.98,170 649.98,153 650.48,160.5 650.48,145.5 650.98,147.5 650.98,170.9 651.48,158.1 651.48,175.1 651.98,167.9 651.98,178.5 652.48,185.6 652.48,172.9 652.98,181.9 652.98,191.2 653.48,176.1 653.48,198.5 653.98,200.7 653.98,186.4 654.48,199.6 654.48,181.9 654.97,197.2 654.97,172.9 655.47,194.5 655.47,175.7 655.97,188.6 655.97,174.2 656.47,180.6 656.47,168.2 656.97,175.3 656.97,163.7 657.47,168.6 657.47,152 657.97,161.4 657.97,151.7 658.47,154.5 658.47,141.2 658.97,139 658.97,153.1 659.47,147.8 659.47,165.7 659.97,158.1 659.97,171.4 660.47,177.8 660.47,165 660.97,167.4 660.97,184.2 661.48,187.6 661.48,175.4 661.99,177.3 661.99,196.5 662.49,197 662.49,176.8 662.99,191.2 662.99,179.8 663.49,182.1 663.49,193.9 663.98,191.2 663.98,175.4 664.48,183.9 664.48,163.6 664.98,162.4 664.98,178.7 665.48,181 665.48,161 665.98,173.7 665.98,159.8 666.48,151.4 666.48,165.4 666.98,161.2 666.98,145.8 667.48,151.6 667.48,165.5 667.98,155.6 667.98,170.4 668.48,160.2 668.48,170.1 668.98,159.9 668.98,180.6 669.48,185.6 669.48,172.4 669.98,175.6 669.98,191.7 670.48,190.9 670.48,177.4 670.97,190.9 670.97,174.6 671.47,174.5 671.47,187.7 671.97,188.2 671.97,174.5 672.47,179.9 672.47,162.8 672.97,181.6 672.97,162.1 673.47,175 673.47,163.4 673.97,154.2 673.97,171.5 674.47,164.4 674.47,144 674.97,147.7 674.97,158.5 675.47,140.8 675.47,158.9 675.97,144.9 675.97,166.3 676.47,171 676.47,156.8 676.98,161.4 676.98,179 677.49,169.2 677.49,181.7 677.99,173.9 677.99,189 678.49,192.1 678.49,180.4 678.99,185.6 678.99,196.6 679.48,198 679.48,182.3 679.98,194.3 679.98,182.7 680.48,189 680.48,175.6 680.98,170.1 680.98,183 681.48,187.6 681.48,169.5 681.98,164.8 681.98,180.1 682.48,173.2 682.48,160.9 682.98,171.8 682.98,151.3 683.48,166.4 683.48,149.8 683.98,154.1 683.98,170.3 684.48,158.9 684.48,178 684.98,163 684.98,179.2 685.48,185.5 685.48,168.6 685.98,188 685.98,177.1 686.47,180 686.47,193.1 686.97,181.1 686.97,193.6 687.47,198.5 687.47,182.9 687.97,195.9 687.97,179.8 688.47,189.9 688.47,174.7 688.97,170.5 688.97,188.1 689.47,182.4 689.47,165.3 689.97,171.5 689.97,161.4 690.47,175.3 690.47,148.7 690.97,151 690.97,166 691.47,157.2 691.47,136 691.97,155.5 691.97,143.4 692.48,141.6 692.48,160.1 692.99,154.6 692.99,165.4 693.49,152.1 693.49,172.4 693.99,168.2 693.99,183.2 694.49,171 694.49,192 694.99,178.7 694.99,200.7 695.48,199.2 695.48,184.1 695.98,197.7 695.98,184.3 696.48,196.5 696.48,172.9 696.98,175.3 696.98,188.8 697.48,191.8 697.48,173.3 697.98,188.4 697.98,169.7 698.48,166.2 698.48,179.3 698.98,171.7 698.98,157.2 699.48,171.5 699.48,154.8 699.98,163.5 699.98,146.1 700.48,145.3 700.48,161 700.98,145.9 700.98,167.8 701.48,160.6 701.48,174.8 701.97,164.2 701.97,178.4 702.47,171.5 702.47,184.3 702.97,173.7 702.97,188.4 703.47,176 703.47,192.8 703.97,177 703.97,190.7 704.47,175.8 704.47,187.7 704.97,188.8 704.97,167.7 705.47,166.5 705.47,180.3 705.97,164.4 705.97,174.5 706.47,171.8 706.47,153.7 706.97,169.6 706.97,152.6 707.47,155.5 707.47,133.5 707.98,156.8 707.98,142.1 708.49,147.7 708.49,136 708.99,141 708.99,152.8 709.49,146.2 709.49,161.8 709.99,151.5 709.99,172 710.49,170.7 710.49,160.3 710.98,175.6 710.98,162.3 711.48,182.5 711.48,169.4 711.98,168.4 711.98,188.7 712.48,179.4 712.48,189.2 712.98,187.6 712.98,173.4 713.48,183.7 713.48,165.8 713.98,179 713.98,164.4 714.48,176.7 714.48,162.6 714.98,174.9 714.98,160.4 715.48,166.8 715.48,155.4 715.98,163.4 715.98,153.7 716.48,161 716.48,144.2 716.98,142.3 716.98,163.8 717.48,152.3 717.48,176.9 717.97,152 717.97,176.4 718.47,182.9 718.47,169.1 718.97,172.2 718.97,186.7 719.47,177.6 719.47,200.8 719.97,180.7 719.97,203.4 720.47,202.8 720.47,185.6 720.97,200.3 720.97,188.6 721.47,197.2 721.47,180.8 721.97,197.7 721.97,180.4 722.47,175 722.47,188.8 722.97,168.1 722.97,185 723.47,184.6 723.47,163 723.98,175.9 723.98,155.1 724.49,165.2 724.49,155 724.99,144.4 724.99,161.6 725.49,147.4 725.49,162.7 725.99,168.6 725.99,143.8 726.48,172.5 726.48,160.4 726.98,161.7 726.98,180.1 727.48,187.1 727.48,170.8 727.98,177.4 727.98,189.6 728.48,182.3 728.48,194.4 728.98,194.7 728.98,179.3 729.48,191.7 729.48,179 729.98,173.5 729.98,186.6 730.48,183 730.48,171.3 730.98,174.3 730.98,162.5 731.48,173.9 731.48,154.9 731.98,167 731.98,145 732.48,163.6 732.48,148.6 732.98,160.2 732.98,134.5 733.47,150.9 733.47,138.5 733.97,140.4 733.97,155.8 734.47,148.6 734.47,163.2 734.97,154 734.97,167.2 735.47,151.9 735.47,178.6 735.97,163.6 735.97,179.9 736.47,183.9 736.47,170.7 736.97,172.1 736.97,188.7 737.47,172.3 737.47,186.7 737.97,172.1 737.97,185.6 738.47,181.4 738.47,162.7 738.97,177.7 738.97,163 739.48,174.3 739.48,155 739.99,151.8 739.99,166 740.49,166.4 740.49,149.2 740.99,159.7 740.99,144.6 741.49,154 741.49,136.3 741.99,156.5 741.99,140.2 742.48,144.8 742.48,163.4 742.98,151.6 742.98,166.3 743.48,159.5 743.48,177.1 743.98,191.1 743.98,169.8 744.48,166.5 744.48,186 744.98,175.8 744.98,190.8 745.48,194.3 745.48,179.9 745.98,195.2 745.98,178.5 746.48,173.6 746.48,188.1 746.98,184.1 746.98,169.9 747.48,168.7 747.48,181.3 747.98,179.3 747.98,162.8 748.48,156.8 748.48,170.2 748.97,146 748.97,169.9 749.47,160.1 749.47,141.5 749.97,154.2 749.97,140.3 750.47,139.3 750.47,163.5 750.97,167.2 750.97,155.2 751.47,153.4 751.47,166.6 751.97,159.1 751.97,170.8 752.47,164.2 752.47,182.8 752.97,167.6 752.97,186 753.47,172.8 753.47,188.3 753.97,187.9 753.97,176.5 754.47,185.5 754.47,172.6 754.98,188 754.98,168.6 755.49,180.4 755.49,164.9 755.99,180.4 755.99,159.6 756.49,169.9 756.49,156.2 756.99,155.3 756.99,166.3 757.49,159.4 757.49,146 757.98,143.9 757.98,160.7 758.48,162.9 758.48,138.7 758.98,145.7 758.98,165.5 759.48,155.1 759.48,167 759.98,157.8 759.98,176.8 760.48,180.3 760.48,165.6 760.98,171.1 760.98,185.7 761.48,185.4 761.48,168.9 761.98,168.2 761.98,186.1 762.48,190.2 762.48,172 762.98,189.5 762.98,171.6 763.48,165.4 763.48,182.9 763.98,161.6 763.98,175.3 764.48,161.8 764.48,172.1 764.97,174.4 764.97,152.4 765.47,163.9 765.47,141 765.97,136 765.97,154 766.47,138.8 766.47,153.8 766.97,153.9 766.97,143.5 767.47,146.1 767.47,163.4 767.97,157.8 767.97,172.8 768.47,160.3 768.47,179.1 768.97,167.8 768.97,186.5 769.47,184.1 769.47,172.8 769.97,173.7 769.97,194 770.47,177.3 770.47,192 770.98,187.5 770.98,172.2 771.49,182.7 771.49,168.6 771.99,179.9 771.99,165.4 772.49,172.6 772.49,155.2 772.99,175 772.99,151.2 773.48,156.6 773.48,141.5 773.98,155.8 773.98,137.8 774.48,130.7 774.48,144.1 774.98,126.3 774.98,145.3 775.48,136.9 775.48,151.7 775.98,138.7 775.98,160.2 776.48,148.5 776.48,166 776.98,152.6 776.98,171.1 777.48,160.9 777.48,176.3 777.98,167.9 777.98,183.4 778.48,171.3 778.48,184.5 778.98,185.7 778.98,169.5 779.48,182.7 779.48,166.6 779.98,179.3 779.98,163.3 780.47,173.9 780.47,159 780.97,165.5 780.97,154.9 781.47,151.8 781.47,163.4 781.97,156.7 781.97,137.9 782.47,154.3 782.47,137.5 782.97,149.3 782.97,130.3 783.47,135.7 783.47,148.5 783.97,140.9 783.97,158 784.47,150.3 784.47,167.3 784.97,160.5 784.97,176.1 785.47,160.2 785.47,182.5 785.97,174.9 785.97,190.8 786.48,195.6 786.48,183.3 786.99,195.6 786.99,182.4 787.49,197 787.49,183.6 787.99,189.5 787.99,176.1 788.49,168.9 788.49,187.4 788.99,179.6 788.99,163.6 789.48,173 789.48,160 789.98,167.2 789.98,151.9 790.48,163.1 790.48,149.8 790.98,155.7 790.98,139.4 791.48,137.1 791.48,151.4 791.98,140.6 791.98,161.9 792.48,142.8 792.48,168.1 792.98,157.4 792.98,176.1 793.48,164.5 793.48,184.6 793.98,171.2 793.98,183.6 794.48,170.4 794.48,195.8 794.98,181.4 794.98,191.7 795.48,193.4 795.48,179.7 795.97,190.6 795.97,171.1 796.47,186.4 796.47,168.4 796.97,181.6 796.97,168.2 797.47,165.4 797.47,175.3 797.97,173.6 797.97,159.8 798.47,166.4 798.47,150.7 798.97,162.5 798.97,145.1 799.47,156.7 799.47,143.4 799.97,136.5 799.97,156.1 800.47,142.5 800.47,164.3 800.97,156.4 800.97,169.3 801.47,173.7 801.47,160.8 801.98,159.8 801.98,179.5 802.49,186.3 802.49,168.6 802.99,188.7 802.99,173.2 803.49,171.3 803.49,189.5 803.99,187.9 803.99,167.3 804.49,184 804.49,166.2 804.98,175.9 804.98,161.5 805.48,176.1 805.48,159.7 805.98,153.6 805.98,167.8 806.48,159.6 806.48,151 806.98,159.7 806.98,143.8 807.48,150.4 807.48,137.8 807.98,131.5 807.98,146.2 808.48,140.1 808.48,150.4 808.98,137.6 808.98,162.6 809.48,148.7 809.48,163.9 809.98,151.2 809.98,171.4 810.48,161.2 810.48,176.7 810.98,165.1 810.98,185 811.48,184.6 811.48,169 811.97,184.9 811.97,172.5 812.47,182.6 812.47,169.9 812.97,175.9 812.97,164.4 813.47,174.9 813.47,160.7 813.97,170 813.97,155.4 814.47,146.3 814.47,174.1 814.97,161.3 814.97,145.4 815.47,158.2 815.47,145.1 815.97,133 815.97,146.5 816.47,137.1 816.47,153 816.97,142.2 816.97,159.8 817.47,151.3 817.47,166.4 817.98,152.7 817.98,172.7 818.49,163 818.49,178.9 818.99,168.6 818.99,187.7 819.49,173.9 819.49,194.3 819.99,177 819.99,193.9 820.48,190.4 820.48,176.4 820.98,187.8 820.98,168.1 821.48,169.1 821.48,182.1 821.98,180.7 821.98,165.4 822.48,175.1 822.48,161 822.98,153.4 822.98,171.1 823.48,165.7 823.48,149.4 823.98,158.3 823.98,136.5 824.48,149.5 824.48,133.3 824.98,135 824.98,148.8 825.48,143.6 825.48,157.9 825.98,147.6 825.98,168.5 826.48,157.4 826.48,172.9 826.98,157 826.98,176.7 827.47,164.8 827.47,175.5 827.97,167.7 827.97,179.5 828.47,183.5 828.47,167.8 828.97,161.9 828.97,182.2 829.47,180.9 829.47,161.3 829.97,175.1 829.97,154.9 830.47,168.3 830.47,151.4 830.97,167 830.97,149.2 831.47,164.7 831.47,149.8 831.97,137.7 831.97,153.2 832.47,149.3 832.47,131.2 832.97,135.7 832.97,154.7 833.48,134 833.48,156.8 833.99,150 833.99,162.6 834.49,149.1 834.49,162.1 834.99,151.5 834.99,171.3 835.49,158 835.49,177.2 835.98,180.8 835.98,159.3 836.48,167.1 836.48,185 836.98,182.5 836.98,171.3 837.48,163.5 837.48,181.1 837.98,177.4 837.98,162.3 838.48,163.7 838.48,175.2 838.98,150.8 838.98,167.7 839.48,168.9 839.48,150.5 839.98,160.4 839.98,148.9 840.48,149.1 840.48,138.7 840.98,156.3 840.98,131.8 841.48,134.5 841.48,151.3 841.98,157.2 841.98,141.2 842.48,149.8 842.48,168.5 842.97,160.5 842.97,175 843.47,174.5 843.47,162.9 843.97,168.5 843.97,187.7 844.47,172.3 844.47,190.2 844.97,190.7 844.97,176 845.47,177.2 845.47,188.4 845.97,184.7 845.97,170.1 846.47,159.5 846.47,179 846.97,149 846.97,169.2 847.47,168.4 847.47,153.6 847.97,167.1 847.97,147.8 848.47,160.5 848.47,141.2 848.98,152 848.98,136.6 849.49,145.9 849.49,128.8 849.99,137.1 849.99,154.3 850.49,158.3 850.49,143.4 850.99,146.7 850.99,170.4 851.49,160.3 851.49,170.4 851.98,169.3 851.98,182.7 852.48,187 852.48,169.2 852.98,173.9 852.98,193.2 853.48,176.2 853.48,190.1 853.98,187.9 853.98,173.7 854.48,183.7 854.48,167.7 854.98,177.7 854.98,160.4 855.48,162.6 855.48,172.2 855.98,156.6 855.98,170.8 856.48,160.8 856.48,144.1 856.98,156.3 856.98,142.8 857.48,148.8 857.48,133.3 857.98,132 857.98,150 858.48,157.4 858.48,137.2 858.97,147.3 858.97,161.5 859.47,170.1 859.47,154.2 859.97,157.7 859.97,176.6 860.47,180.5 860.47,165.8 860.97,167.3 860.97,181.2 861.47,182.7 861.47,174 861.97,187.2 861.97,172.5 862.47,183.8 862.47,167.3 862.97,177.2 862.97,161.6 863.47,172.4 863.47,156.4 863.97,169 863.97,150.9 864.47,164.4 864.47,147.1 864.75,156.3 864.75,149.8"/>
<path class="tk" d="M202.5,237.5 v5 M285.5,237.5 v5 M367.5,237.5 v5 M450.5,237.5 v5 M533.5,237.5 v5 M616.5,237.5 v5 M699.5,237.5 v5 M782.5,237.5 v5 M865.5,237.5 v5 M125.5,224.5 h-5 M125.5,192.5 h-5 M125.5,159.5 h-5 M125.5,127.5 h-5"/>
<text class="t" transform="translate(169.65,274.64) rotate(-30)" textLength="35.00" lengthAdjust="spacingAndGlyphs">2020</text>
<text class="t" transform="translate(252.55,274.64) rotate(-30)" textLength="35.00" lengthAdjust="spacingAndGlyphs">2030</text>
<text class="t" transform="translate(335.43,274.64) rotate(-30)" textLength="35.00" lengthAdjust="spacingAndGlyphs">2040</text>
<text class="t" transform="translate(418.33,274.64) rotate(-30)" textLength="35.00" lengthAdjust="spacingAndGlyphs">2050</text>
<text class="t" transform="translate(501.21,274.64) rotate(-30)" textLength="35.00" lengthAdjust="spacingAndGlyphs">2060</text>
<text class="t" transform="translate(584.11,274.64) rotate(-30)" textLength="35.00" lengthAdjust="spacingAndGlyphs">2070</text>
<text class="t" transform="translate(666.99,274.64) rotate(-30)" textLength="35.00" lengthAdjust="spacingAndGlyphs">2080</text>
<text class="t" transform="translate(749.89,274.64) rotate(-30)" textLength="35.00" lengthAdjust="spacingAndGlyphs">2090</text>
<text class="t" transform="translate(832.77,274.64) rotate(-30)" textLength="35.00" lengthAdjust="spacingAndGlyphs">2100</text>
<text class="t" x="113.40" y="230.05" text-anchor="end" textLength="33.10" lengthAdjust="spacingAndGlyphs">7300</text>
<text class="t" x="113.40" y="197.05" text-anchor="end" textLength="33.10" lengthAdjust="spacingAndGlyphs">7400</text>
<text class="t" x="113.40" y="165.05" text-anchor="end" textLength="33.10" lengthAdjust="spacingAndGlyphs">7500</text>
<text class="t" x="113.40" y="132.05" text-anchor="end" textLength="33.10" lengthAdjust="spacingAndGlyphs">7600</text>
<text class="t" transform="translate(70.60,179.62) rotate(-90)" text-anchor="middle" textLength="69.50" lengthAdjust="spacingAndGlyphs">fieldmean</text>
<text class="ti" y="110.90"><tspan x="300.50" textLength="56.80" lengthAdjust="spacingAndGlyphs">zg400,</tspan> <tspan x="363.00" textLength="54.30" lengthAdjust="spacingAndGlyphs">lev=0,</tspan> <tspan x="422.30" textLength="136.00" lengthAdjust="spacingAndGlyphs">20150101T1200</tspan> <tspan x="565.40" textLength="14.70" lengthAdjust="spacingAndGlyphs">to</tspan> <tspan x="586.30" textLength="137.00" lengthAdjust="spacingAndGlyphs">20991231T1200</tspan></text>
<rect class="sp" x="125.5" y="120.5" width="775" height="117"/>
</g>
<g id="ax1">
<rect x="125.0" y="260.69" width="775.0" height="117.24" fill="#fff"/>
<path class="ln" style="stroke-width:2.5" d="M160.48,326.5 160.48,298.9 160.99,290.5 160.99,319 161.49,286.5 161.49,315.7 161.99,324.1 161.99,295.1 162.49,323.3 162.49,291.7 162.98,304 162.98,326.2 163.48,301.8 163.48,328.2 163.98,312.4 163.98,339 164.48,339.3 164.48,309 164.98,349.2 164.98,313 165.48,305.2 165.48,357.2 165.98,350.9 165.98,318.1 166.48,345.9 166.48,314.3 166.98,339.5 166.98,300.6 167.48,335.6 167.48,301.5 167.98,327.7 167.98,296.2 168.48,297.8 168.48,325.4 168.98,310.9 168.98,288.3 169.48,290.9 169.48,315.3 169.97,310.7 169.97,283.2 170.47,287.9 170.47,321.5 170.97,319.7 170.97,290.3 171.47,309.5 171.47,334.7 171.97,312.6 171.97,336.9 172.47,312.9 172.47,348.8 172.97,315.7 172.97,351.8 173.47,318.7 173.47,368.2 173.97,319.1 173.97,355.6 174.47,352.3 174.47,307 174.97,345.1 174.97,321.5 175.47,311 175.47,338.4 175.98,330 175.98,304.3 176.49,338.8 176.49,290.9 176.99,328.1 176.99,296.4 177.49,318.3 177.49,289.7 177.99,292.4 177.99,313.8 178.48,316.6 178.48,294.9 178.98,322.1 178.98,285.3 179.48,303.5 179.48,326.8 179.98,332 179.98,300.5 180.48,304.4 180.48,343.8 180.98,301.6 180.98,337 181.48,311.4 181.48,350.6 181.98,315.4 181.98,352.5 182.48,306.6 182.48,349 182.98,362.5 182.98,310.6 183.48,346.9 183.48,310.7 183.98,338.2 183.98,302 184.48,336.8 184.48,306.5 184.98,320.9 184.98,298.2 185.47,296.4 185.47,321.6 185.97,313.7 185.97,290.1 186.47,284.3 186.47,315.7 186.97,295.4 186.97,324.5 187.47,324.9 187.47,298.2 187.97,303.8 187.97,325.6 188.47,337.7 188.47,313 188.97,345.4 188.97,311.6 189.47,318.5 189.47,348.4 189.97,327.6 189.97,360.4 190.47,369.2 190.47,324.2 190.97,323.2 190.97,358.6 191.48,316.4 191.48,350.5 191.99,318.9 191.99,348.1 192.49,344.8 192.49,312.7 192.99,337.1 192.99,309.5 193.49,337.2 193.49,307.3 193.99,306.9 193.99,323.2 194.48,322 194.48,300.3 194.98,326.8 194.98,295.2 195.48,305.7 195.48,331.7 195.98,300.2 195.98,332.7 196.48,311.8 196.48,332.4 196.98,314.3 196.98,334.2 197.48,304.1 197.48,343 197.98,317.4 197.98,348.7 198.48,357.2 198.48,310.4 198.98,352.8 198.98,316.4 199.48,313.9 199.48,350.8 199.98,341.8 199.98,297.3 200.48,328.8 200.48,310.1 200.97,295.8 200.97,332.8 201.47,322.8 201.47,296.7 201.97,298.6 201.97,320.5 202.47,308.7 202.47,288.6 202.97,281.3 202.97,309.1 203.47,291.9 203.47,323.7 203.97,300.5 203.97,320.2 204.47,301.7 204.47,329.4 204.97,331.4 204.97,304.4 205.47,329.6 205.47,298.9 205.97,295.5 205.97,330.8 206.47,306 206.47,346.6 206.98,310.7 206.98,355 207.49,308.6 207.49,342.4 207.99,306.6 207.99,341.6 208.49,311.7 208.49,332.2 208.99,307.3 208.99,337.4 209.49,323.3 209.49,295.9 209.98,332.7 209.98,303.4 210.48,319.8 210.48,294.1 210.98,288.8 210.98,313.8 211.48,296.1 211.48,318.8 211.98,327.3 211.98,298.3 212.48,328.3 212.48,300.8 212.98,299 212.98,333.2 213.48,304.1 213.48,329.9 213.98,310.1 213.98,343 214.48,354.4 214.48,322.7 214.98,317.3 214.98,352 215.48,369.2 215.48,324.1 215.98,320.7 215.98,350.1 216.48,321.6 216.48,339.5 216.97,340.7 216.97,310 217.47,335.4 217.47,296.9 217.97,297.9 217.97,331.8 218.47,325 218.47,294.7 218.97,296 218.97,324.4 219.47,317.8 219.47,289.5 219.97,299.3 219.97,316.1 220.47,303.8 220.47,326.1 220.97,298.7 220.97,330.5 221.47,331 221.47,306.3 221.97,332 221.97,303.3 222.47,345.7 222.47,305.3 222.98,313.5 222.98,345.7 223.49,322.4 223.49,348.6 223.99,359.2 223.99,307.9 224.49,338.8 224.49,316.9 224.99,343.1 224.99,312.2 225.48,312.7 225.48,330.3 225.98,327.8 225.98,295.9 226.48,298.9 226.48,321.5 226.98,315.5 226.98,294.2 227.48,308.8 227.48,285.8 227.98,284.3 227.98,324.4 228.48,290.5 228.48,321.9 228.98,297.7 228.98,316.9 229.48,326.9 229.48,294.4 229.98,333.9 229.98,306.2 230.48,310.9 230.48,338 230.98,317.5 230.98,344.7 231.48,358.3 231.48,311.5 231.98,312.6 231.98,339.8 232.47,311.3 232.47,345.6 232.97,311.5 232.97,340.1 233.47,338.9 233.47,304.2 233.97,302 233.97,322.1 234.47,320.7 234.47,298.2 234.97,319.3 234.97,290.2 235.47,317.9 235.47,290.1 235.97,315.7 235.97,289 236.47,288 236.47,317.8 236.97,337.3 236.97,301.8 237.47,324 237.47,299.5 237.97,332.2 237.97,298.2 238.48,308 238.48,337.5 238.99,313.4 238.99,338.6 239.49,303.8 239.49,337.7 239.99,344.1 239.99,307.1 240.49,321.7 240.49,355.3 240.99,357.2 240.99,310.4 241.48,342.8 241.48,306.9 241.98,335.2 241.98,306 242.48,301.2 242.48,327.2 242.98,327.9 242.98,312 243.48,297.4 243.48,322.4 243.98,318.1 243.98,300.6 244.48,299.1 244.48,326.5 244.98,295.2 244.98,326.6 245.48,300.9 245.48,330.6 245.98,334.5 245.98,313.9 246.48,313.1 246.48,336.8 246.98,343.9 246.98,314.8 247.48,316.5 247.48,345.3 247.97,325.7 247.97,351.5 248.47,357.5 248.47,322.3 248.97,369.2 248.97,314.6 249.47,314.2 249.47,345.5 249.97,342.1 249.97,323.8 250.47,342.1 250.47,310 250.97,334.6 250.97,305.5 251.47,327.3 251.47,299.4 251.97,320.4 251.97,300.9 252.47,324.2 252.47,304.7 252.97,322.1 252.97,296.2 253.47,326.2 253.47,295.8 253.98,305.8 253.98,327.8 254.49,331.8 254.49,308.9 254.99,309.4 254.99,330.6 255.49,307.7 255.49,332.1 255.99,315.3 255.99,339.9 256.49,339 256.49,309 256.98,311.8 256.98,355 257.48,350.4 257.48,311.5 257.98,295.8 257.98,343.1 258.48,305.2 258.48,332.1 258.98,324.8 258.98,302.4 259.48,302.9 259.48,324.1 259.98,323.5 259.98,300.5 260.48,325.3 260.48,287.7 260.98,291.9 260.98,316.7 261.48,297 261.48,326.1 261.98,306.8 261.98,330.6 262.48,303.4 262.48,328.3 262.98,307 262.98,336.5 263.48,307.1 263.48,345.6 263.97,313.6 263.97,343.1 264.47,320.2 264.47,350.2 264.97,319.1 264.97,351.4 265.47,360.2 265.47,320.2 265.97,337.6 265.97,319.7 266.47,331.1 266.47,302.6 266.97,345.8 266.97,301.3 267.47,328.1 267.47,302.2 267.97,319.3 267.97,295.7 268.47,322.4 268.47,296.4 268.97,287.7 268.97,316.9 269.47,290.2 269.47,320.4 269.98,291.6 269.98,312.9 270.49,318.1 270.49,293.5 270.99,290.8 270.99,328.6 271.49,335.6 271.49,305.8 271.99,313.5 271.99,338.6 272.48,307.5 272.48,339.9 272.98,339.2 272.98,309.3 273.48,313.9 273.48,344.8 273.98,322.7 273.98,358 274.48,337 274.48,306.1 274.98,313.5 274.98,331.1 275.48,301.4 275.48,330.9 275.98,327.3 275.98,295.3 276.48,318.5 276.48,302.3 276.98,334.7 276.98,297.9 277.48,326.7 277.48,294.3 277.98,296.2 277.98,319.4 278.48,305.3 278.48,326.9 278.98,332.9 278.98,308.6 279.47,329.2 279.47,299.2 279.97,346.5 279.97,314.2 280.47,312.3 280.47,347.7 280.97,319.9 280.97,348.7 281.47,312.2 281.47,357.2 281.97,347.5 281.97,313.2 282.47,340.3 282.47,314.1 282.97,306.6 282.97,337.6 283.47,306.3 283.47,343 283.97,333 283.97,304.4 284.47,324.6 284.47,302.1 284.97,293.3 284.97,321.1 285.48,298.7 285.48,319.1 285.99,295.6 285.99,317.9 286.49,297.7 286.49,330.8 286.99,305.8 286.99,336.5 287.49,307.2 287.49,324.6 287.98,306.3 287.98,338.1 288.48,335.8 288.48,312.4 288.98,318.2 288.98,346.8 289.48,352.1 289.48,322.9 289.98,351.5 289.98,315.6 290.48,320.6 290.48,366.7 290.98,347.6 290.98,314.5 291.48,342.1 291.48,309.8 291.98,299.3 291.98,336.6 292.48,329.5 292.48,287.7 292.98,326.3 292.98,297.9 293.48,291.9 293.48,314.9 293.98,317.3 293.98,295.2 294.48,289 294.48,317.7 294.97,296.3 294.97,326.6 295.47,301.2 295.47,322.4 295.97,305.8 295.97,330.4 296.47,345.2 296.47,308.9 296.97,347.9 296.97,317 297.47,355.1 297.47,317.7 297.97,317 297.97,350.4 298.47,319 298.47,362.3 298.97,364 298.97,308.7 299.47,309.6 299.47,346.8 299.97,335.8 299.97,302.8 300.47,331.7 300.47,305 300.98,327.3 300.98,295.8 301.49,292.3 301.49,315.5 301.99,321.2 301.99,287.1 302.49,313.4 302.49,283.8 302.99,320.7 302.99,292.5 303.49,317.3 303.49,300.5 303.98,298.9 303.98,322.9 304.48,303.4 304.48,329.4 304.98,332.3 304.98,304.2 305.48,342 305.48,307.5 305.98,349.4 305.98,308.2 306.48,354.2 306.48,313.9 306.98,343.1 306.98,311.5 307.48,304 307.48,332.9 307.98,339 307.98,310.3 308.48,300.2 308.48,331.9 308.98,323.6 308.98,307.9 309.48,329.5 309.48,304.7 309.98,323 309.98,294.1 310.48,316.3 310.48,292.5 310.97,298.7 310.97,320.9 311.47,326.6 311.47,295.4 311.97,308.2 311.97,333.8 312.47,307.4 312.47,338.2 312.97,331.4 312.97,303.8 313.47,333.7 313.47,310.8 313.97,306.7 313.97,349 314.47,309.7 314.47,353.7 314.97,361 314.97,323.5 315.47,344.6 315.47,316.5 315.97,339.7 315.97,306.6 316.47,335.3 316.47,310 316.98,325.3 316.98,301.9 317.49,340.5 317.49,300.8 317.99,319.2 317.99,295.8 318.49,288.4 318.49,311.8 318.99,285 318.99,311.7 319.48,316 319.48,293.4 319.98,324.9 319.98,298.4 320.48,302.9 320.48,323.6 320.98,330 320.98,307.1 321.48,310.7 321.48,338.4 321.98,306 321.98,338.7 322.48,363.2 322.48,316.5 322.98,315.2 322.98,344.9 323.48,348.2 323.48,309.7 323.98,346.3 323.98,306 324.48,343.4 324.48,309.6 324.98,338.5 324.98,302.1 325.48,336.9 325.48,293.6 325.98,330.6 325.98,300.6 326.47,290.1 326.47,318.6 326.97,291.4 326.97,315.9 327.47,295.1 327.47,314.9 327.97,313.5 327.97,286.5 328.47,323.7 328.47,299.7 328.97,302 328.97,330.2 329.47,309.7 329.47,336 329.97,340.4 329.97,308.3 330.47,307.7 330.47,339.4 330.97,346.1 330.97,311.5 331.47,348 331.47,312 331.97,312.7 331.97,357.2 332.48,312.9 332.48,344.3 332.99,307.9 332.99,336.6 333.49,332.2 333.49,296.1 333.99,320.9 333.99,295.9 334.49,322.6 334.49,283.5 334.98,289 334.98,305.9 335.48,315.5 335.48,285.4 335.98,293.3 335.98,318 336.48,291.6 336.48,318 336.98,300.7 336.98,325.9 337.48,294.1 337.48,325.9 337.98,302.9 337.98,328.2 338.48,332.4 338.48,305.6 338.98,307.5 338.98,330.1 339.48,341.8 339.48,307.9 339.98,355 339.98,314.9 340.48,340.9 340.48,301.5 340.98,338.4 340.98,311.6 341.48,337.8 341.48,293.7 341.97,301 341.97,330.6 342.47,327.7 342.47,297.3 342.97,294.8 342.97,314.9 343.47,312.5 343.47,294 343.97,288.3 343.97,322.1 344.47,293.5 344.47,330.6 344.97,295.2 344.97,325.8 345.47,330.5 345.47,303.2 345.97,335.2 345.97,306 346.47,310.9 346.47,341.6 346.97,338 346.97,308.4 347.47,351.6 347.47,319.3 347.98,312.9 347.98,351.1 348.49,319.4 348.49,359.8 348.99,350.3 348.99,314.8 349.49,341.3 349.49,309.4 349.99,297.2 349.99,329.5 350.49,302.6 350.49,324.7 350.98,338.8 350.98,302.9 351.48,300.3 351.48,320 351.98,301.4 351.98,314.6 352.48,293.3 352.48,321.9 352.98,327.6 352.98,304.5 353.48,334.3 353.48,301.1 353.98,303.3 353.98,333.8 354.48,340.5 354.48,303.7 354.98,307.6 354.98,336.4 355.48,308 355.48,355.1 355.98,358.7 355.98,316 356.48,318.4 356.48,348.6 356.98,342.7 356.98,315.6 357.48,339.8 357.48,315.2 357.97,339.1 357.97,315.5 358.47,297 358.47,336.9 358.97,301.1 358.97,326.1 359.47,299.9 359.47,320.5 359.97,330.8 359.97,297.8 360.47,293.3 360.47,313.4 360.97,300.5 360.97,326.4 361.47,300.4 361.47,332.8 361.97,305.2 361.97,332.7 362.47,310.5 362.47,340.7 362.97,340.7 362.97,313.4 363.47,319.1 363.47,348.9 363.98,327.9 363.98,364.7 364.49,318.2 364.49,360.9 364.99,316.9 364.99,356.3 365.49,315.8 365.49,339.2 365.99,351.9 365.99,310.3 366.48,308.8 366.48,343.6 366.98,328.3 366.98,303.4 367.48,326.9 367.48,296.5 367.98,321.4 367.98,299.7 368.48,314.1 368.48,286.8 368.98,295 368.98,315.7 369.48,296.3 369.48,321.4 369.98,301.2 369.98,330.6 370.48,319.2 370.48,287.4 370.98,306.1 370.98,325.2 371.48,335.2 371.48,301.7 371.98,300.7 371.98,342.4 372.48,342.4 372.48,297.9 372.98,342.6 372.98,301.6 373.47,298.5 373.47,349.7 373.97,301.5 373.97,339.7 374.47,303.4 374.47,330 374.97,325.7 374.97,294.4 375.47,326 375.47,285 375.97,291.9 375.97,315.7 376.47,314.5 376.47,286.4 376.97,289.1 376.97,310.7 377.47,290.3 377.47,324.1 377.97,327.5 377.97,297.2 378.47,304.7 378.47,320.1 378.97,293.6 378.97,326.1 379.48,311.8 379.48,346.3 379.99,346.8 379.99,317.2 380.49,319.4 380.49,345.5 380.99,325.4 380.99,348.5 381.49,348.9 381.49,303.7 381.98,324.3 381.98,361 382.48,337.7 382.48,310.6 382.98,302.2 382.98,330.2 383.48,300.4 383.48,327.4 383.98,329.1 383.98,302.1 384.48,324 384.48,295 384.98,319.3 384.98,288 385.48,318.3 385.48,298.8 385.98,295.3 385.98,322.4 386.48,299.4 386.48,323.3 386.98,331.1 386.98,309.5 387.48,302.9 387.48,330.9 387.98,340.7 387.98,303.9 388.48,313.6 388.48,334.9 388.97,305.9 388.97,353.8 389.47,346.4 389.47,309.2 389.97,310.5 389.97,345.2 390.47,304.9 390.47,341.5 390.97,332.5 390.97,307.3 391.47,333 391.47,303.7 391.97,326.6 391.97,302.4 392.47,315 392.47,288.3 392.97,316.1 392.97,298.2 393.47,297.7 393.47,314.5 393.97,296.9 393.97,316.4 394.47,297.9 394.47,330.5 394.98,299.1 394.98,337.6 395.49,299.1 395.49,341.7 395.99,347.8 395.99,305.3 396.49,302.6 396.49,346.2 396.99,313 396.99,350.8 397.49,352 397.49,318.4 397.98,360.2 397.98,309.5 398.48,319.4 398.48,349.2 398.98,314.4 398.98,346.9 399.48,340.7 399.48,297.9 399.98,340.2 399.98,308.1 400.48,304.4 400.48,329.2 400.98,328.6 400.98,300 401.48,318.7 401.48,303.7 401.98,294.8 401.98,319.1 402.48,291.8 402.48,325.2 402.98,306 402.98,330.3 403.48,309.3 403.48,332.5 403.98,303.1 403.98,335.4 404.47,339.5 404.47,309.6 404.97,338.3 404.97,308.6 405.47,353 405.47,319.6 405.97,320.2 405.97,364 406.47,318.4 406.47,347.8 406.97,318.1 406.97,346 407.47,339.9 407.47,307.1 407.97,334.1 407.97,305 408.47,330.4 408.47,303.2 408.97,330 408.97,302.9 409.47,319.2 409.47,304.1 409.97,291.5 409.97,315.1 410.47,292.3 410.47,333.8 410.98,306.1 410.98,330.3 411.49,305.4 411.49,330.5 411.99,309.6 411.99,339.1 412.49,306.3 412.49,343.8 412.99,312.6 412.99,341.6 413.48,344.2 413.48,314.1 413.98,305.9 413.98,349 414.48,308.8 414.48,346.1 414.98,362.5 414.98,308.6 415.48,351.4 415.48,304.7 415.98,343.4 415.98,308.8 416.48,334.1 416.48,299.4 416.98,308.8 416.98,335.1 417.48,303.8 417.48,327 417.98,319.9 417.98,289.5 418.48,296.6 418.48,316.4 418.98,295.7 418.98,321.7 419.48,301.7 419.48,321.5 419.98,309.4 419.98,338.6 420.47,335.8 420.47,306.6 420.97,316.4 420.97,338.7 421.47,344.6 421.47,317 421.97,347.3 421.97,312.5 422.47,322 422.47,351.7 422.97,362.5 422.97,321.9 423.47,321.6 423.47,348.1 423.97,306.2 423.97,340.2 424.47,331.9 424.47,301.1 424.97,297.7 424.97,325.4 425.47,321.3 425.47,286.5 425.97,317 425.97,292.8 426.48,316.5 426.48,285.9 426.99,280.2 426.99,310.9 427.49,295.8 427.49,311.9 427.99,328.4 427.99,294.7 428.49,305.3 428.49,326.8 428.98,310.3 428.98,331.6 429.48,319.1 429.48,347.4 429.98,340.1 429.98,297.9 430.48,318 430.48,350.4 430.98,326.3 430.98,359.8 431.48,356.2 431.48,317.9 431.98,303 431.98,339 432.48,304.1 432.48,334.3 432.98,299.8 432.98,331.6 433.48,296.5 433.48,324.8 433.98,318.5 433.98,292.8 434.48,316.1 434.48,282.8 434.98,289.3 434.98,318.1 435.48,317.7 435.48,292.1 435.97,302.3 435.97,322.1 436.47,327.4 436.47,304.9 436.97,332.3 436.97,304.5 437.47,341 437.47,311.3 437.97,309.9 437.97,352.5 438.47,348.8 438.47,316.2 438.97,318.8 438.97,360.1 439.47,318 439.47,351.5 439.97,371.5 439.97,321.7 440.47,345.6 440.47,315.1 440.97,316.8 440.97,338.5 441.47,337.3 441.47,304.2 441.98,327.7 441.98,298.7 442.49,300.4 442.49,321.4 442.99,323.5 442.99,299.2 443.49,289.5 443.49,316.3 443.99,302.9 443.99,323.7 444.49,301.7 444.49,324 444.98,298.9 444.98,326 445.48,309.6 445.48,335.3 445.98,310.6 445.98,335 446.48,338.6 446.48,311.8 446.98,315.6 446.98,351.6 447.48,357.2 447.48,314.5 447.98,342.7 447.98,304.9 448.48,309.9 448.48,335.5 448.98,322.8 448.98,300.6 449.48,326.9 449.48,296 449.98,290.5 449.98,315.5 450.48,314 450.48,290 450.98,288.2 450.98,309.9 451.47,303.6 451.47,279.8 451.97,316.4 451.97,286.9 452.47,291 452.47,318.6 452.97,320.8 452.97,296.7 453.47,320.6 453.47,297.3 453.97,304.4 453.97,343.3 454.47,339.6 454.47,310.9 454.97,343.7 454.97,312.2 455.47,323.4 455.47,347.3 455.97,349.2 455.97,313.8 456.47,361 456.47,306.5 456.97,341.8 456.97,314.3 457.48,309.7 457.48,331.8 457.99,304.2 457.99,338.5 458.49,305.5 458.49,328.4 458.99,323.8 458.99,299.4 459.49,320.9 459.49,295.2 459.99,293.3 459.99,325.9 460.48,324 460.48,297.8 460.98,300.8 460.98,328.4 461.48,333.6 461.48,302 461.98,339.8 461.98,305.6 462.48,345.9 462.48,308.8 462.98,319.4 462.98,343 463.48,309.9 463.48,347 463.98,317.9 463.98,351.1 464.48,316.7 464.48,361.3 464.98,346.9 464.98,308.5 465.48,331.6 465.48,310.9 465.98,332.4 465.98,299.7 466.48,294.7 466.48,339.4 466.98,320.9 466.98,294.5 467.47,311.7 467.47,295.9 467.97,281.3 467.97,308.4 468.47,309.6 468.47,288.4 468.97,289.4 468.97,322.7 469.47,292.8 469.47,317.7 469.97,299.3 469.97,331.3 470.47,335.6 470.47,312.3 470.97,341.8 470.97,308.6 471.47,312.2 471.47,346.1 471.97,323.8 471.97,344.8 472.47,319.7 472.47,352.7 472.97,362.5 472.97,314.1 473.48,318.5 473.48,346.5 473.99,310.3 473.99,344 474.49,336.6 474.49,304 474.99,302 474.99,327 475.49,319 475.49,297 475.98,296.2 475.98,322.9 476.48,292.9 476.48,321.4 476.98,315.9 476.98,296.1 477.48,289.5 477.48,318.9 477.98,303 477.98,326.5 478.48,301.4 478.48,326.5 478.98,337.2 478.98,309.8 479.48,314.4 479.48,341.1 479.98,310.4 479.98,346.3 480.48,344.7 480.48,314.3 480.98,304.5 480.98,353.6 481.48,355 481.48,311.6 481.98,336.2 481.98,306.2 482.48,331.9 482.48,293.1 482.97,299.6 482.97,319.2 483.47,327.9 483.47,298.4 483.97,323.1 483.97,294.1 484.47,318.3 484.47,285 484.97,290.3 484.97,315.6 485.47,288.2 485.47,314.3 485.97,299.6 485.97,317.5 486.47,301.9 486.47,342 486.97,339 486.97,310.2 487.47,303.6 487.47,342.2 487.97,312 487.97,343.9 488.47,349.9 488.47,311.9 488.98,305.9 488.98,361 489.49,350.7 489.49,312.2 489.99,344.2 489.99,315.7 490.49,341.2 490.49,299.5 490.99,331.5 490.99,302.7 491.49,331.7 491.49,288.8 491.98,322.1 491.98,299.2 492.48,319.6 492.48,290.1 492.98,293.3 492.98,313.6 493.48,320.5 493.48,295.3 493.98,295.2 493.98,324.9 494.48,325.9 494.48,306.7 494.98,299.9 494.98,328.2 495.48,306.4 495.48,340 495.98,333.4 495.98,296.5 496.48,310.1 496.48,341.2 496.98,342.8 496.98,316.5 497.48,314.9 497.48,341.1 497.98,357.2 497.98,305 498.47,303.5 498.47,330.2 498.97,302.8 498.97,327.8 499.47,295.5 499.47,326.4 499.97,316.1 499.97,298.2 500.47,327.3 500.47,290.4 500.97,317.7 500.97,289 501.47,281.7 501.47,317.4 501.97,289.4 501.97,314.7 502.47,300.7 502.47,318 502.97,300.1 502.97,326.8 503.47,303.2 503.47,330.7 503.97,346.4 503.97,310.9 504.48,316.2 504.48,338.8 504.99,309.1 504.99,345.9 505.49,359.8 505.49,317.3 505.99,347 505.99,316.6 506.49,309.2 506.49,345.1 506.99,313.9 506.99,337.7 507.48,330.1 507.48,299.1 507.98,297.5 507.98,321.9 508.48,327.5 508.48,298.9 508.98,323.9 508.98,289 509.48,285 509.48,311.3 509.98,294.4 509.98,322.8 510.48,317.2 510.48,296 510.98,295 510.98,323.6 511.48,306 511.48,331.5 511.98,340.1 511.98,302.8 512.48,340.9 512.48,303.3 512.98,308.2 512.98,344 513.48,338.7 513.48,311.6 513.98,321.2 513.98,358.7 514.47,348.2 514.47,303.5 514.97,342 514.97,314.6 515.47,329 515.47,301.6 515.97,335.1 515.97,305.9 516.47,297.3 516.47,320.5 516.97,324.6 516.97,288.9 517.47,314.3 517.47,290.7 517.97,294.4 517.97,312.7 518.47,299.6 518.47,315.4 518.97,286.2 518.97,316.8 519.47,327.7 519.47,300.6 519.97,295.6 519.97,331.3 520.48,295.9 520.48,330.5 520.99,332.7 520.99,302 521.49,328.8 521.49,301.7 521.99,315 521.99,340 522.49,350.2 522.49,304 522.98,308.1 522.98,331.4 523.48,303.9 523.48,325.7 523.98,305.3 523.98,323.6 524.48,327.5 524.48,299.5 524.98,295.6 524.98,324.5 525.48,297.3 525.48,318.7 525.98,315.4 525.98,289.5 526.48,290.2 526.48,319.6 526.98,321.4 526.98,290.6 527.48,325.3 527.48,295.1 527.98,326.9 527.98,307.1 528.48,332.2 528.48,301.2 528.98,338.3 528.98,307.7 529.48,329.1 529.48,300.2 529.97,344.2 529.97,306.2 530.47,315.8 530.47,351.7 530.97,308.5 530.97,338 531.47,326.2 531.47,300.2 531.97,331.5 531.97,304.4 532.47,333.1 532.47,290.9 532.97,325.7 532.97,305.9 533.47,297.6 533.47,326.7 533.97,290.3 533.97,325 534.47,294.4 534.47,320.1 534.97,327.6 534.97,293.4 535.47,302.3 535.47,320.5 535.98,298.9 535.98,329.2 536.49,329.6 536.49,314.3 536.99,337.8 536.99,308.8 537.49,344.1 537.49,313.2 537.99,344.5 537.99,306.4 538.49,320 538.49,347.4 538.98,317 538.98,341.6 539.48,314.4 539.48,356.8 539.98,311.9 539.98,333.7 540.48,337.6 540.48,303.3 540.98,300.6 540.98,340.8 541.48,330.6 541.48,299.4 541.98,295.1 541.98,316.9 542.48,319.1 542.48,298.8 542.98,301.7 542.98,323.9 543.48,322.5 543.48,292.2 543.98,329.3 543.98,303 544.48,307.1 544.48,327.4 544.98,309.6 544.98,337.2 545.47,305.2 545.47,340.9 545.97,316.2 545.97,352.1 546.47,303 546.47,352.5 546.97,357.2 546.97,320.8 547.47,314.3 547.47,343.8 547.97,305.7 547.97,339.4 548.47,308 548.47,344.9 548.97,301.9 548.97,333.4 549.47,332.5 549.47,291.5 549.97,316.8 549.97,297.7 550.47,283.8 550.47,314.9 550.97,288.3 550.97,312.8 551.48,287.7 551.48,322.5 551.99,295.9 551.99,312.8 552.49,297.2 552.49,329 552.99,302.8 552.99,323.1 553.49,332.9 553.49,310.7 553.99,297.6 553.99,327.7 554.48,317 554.48,353.2 554.98,346.6 554.98,321.5 555.48,344.1 555.48,313.4 555.98,311.8 555.98,343.3 556.48,337.5 556.48,300.2 556.98,301.7 556.98,329.6 557.48,322.3 557.48,296.7 557.98,323.3 557.98,295.2 558.48,292.7 558.48,315.5 558.98,313.2 558.98,287.5 559.48,285.3 559.48,309.1 559.98,286.7 559.98,314.9 560.48,294.6 560.48,325 560.98,289.5 560.98,327.4 561.47,292 561.47,327.5 561.97,309.8 561.97,335.3 562.47,346.2 562.47,307.7 562.97,312 562.97,336.5 563.47,341.3 563.47,313.4 563.97,316.4 563.97,341.2 564.47,354.2 564.47,307.8 564.97,331.1 564.97,302.9 565.47,298.7 565.47,319.1 565.97,294.2 565.97,322.3 566.47,287.4 566.47,322.2 566.97,310.5 566.97,289 567.48,286.8 567.48,307.6 567.99,276 567.99,307.8 568.49,294.3 568.49,319 568.99,315.5 568.99,288.2 569.49,298.5 569.49,335.3 569.98,300.4 569.98,330.4 570.48,305.1 570.48,334.3 570.98,316.8 570.98,345.6 571.48,313 571.48,343 571.98,312.2 571.98,339.6 572.48,304.1 572.48,353.8 572.98,303.9 572.98,328.9 573.48,329.2 573.48,304.5 573.98,300.7 573.98,327.1 574.48,327.9 574.48,298.1 574.98,326.7 574.98,292.7 575.48,285 575.48,316.1 575.98,316.1 575.98,288.7 576.48,291.1 576.48,320.3 576.97,296.1 576.97,320.1 577.47,301.3 577.47,325.3 577.97,298.9 577.97,333.4 578.47,311.9 578.47,334.7 578.97,341.1 578.97,303.3 579.47,343.2 579.47,305.5 579.97,316.7 579.97,342.6 580.47,314.5 580.47,342.8 580.97,357.7 580.97,307.9 581.47,334.7 581.47,303.6 581.97,309.2 581.97,332.8 582.47,331.1 582.47,302.5 582.98,328.4 582.98,302 583.49,319.8 583.49,297.3 583.99,286.8 583.99,320 584.49,312 584.49,297.9 584.99,297.8 584.99,324.9 585.48,324.2 585.48,301.3 585.98,298.7 585.98,341.1 586.48,310.9 586.48,339.9 586.98,313.3 586.98,341.6 587.48,309.4 587.48,350.7 587.98,322.5 587.98,350 588.48,371.2 588.48,312.4 588.98,338.3 588.98,313.9 589.48,339.4 589.48,312.3 589.98,341.3 589.98,307.5 590.48,338.5 590.48,304.7 590.98,327 590.98,300.1 591.48,320.2 591.48,300.7 591.98,317.9 591.98,287.7 592.47,293.8 592.47,312.4 592.97,298.8 592.97,327.2 593.47,318.6 593.47,300.2 593.97,296.5 593.97,321.4 594.47,297 594.47,327.4 594.97,303.8 594.97,334.7 595.47,303.6 595.47,340.4 595.97,333.4 595.97,309.4 596.47,297.3 596.47,337.3 596.97,300.6 596.97,349.7 597.47,343.9 597.47,301.8 597.97,322.8 597.97,296.9 598.48,301 598.48,322.8 598.99,319.2 598.99,289.6 599.49,293.5 599.49,318.6 599.99,306.6 599.99,284.8 600.49,318.1 600.49,274.5 600.99,311.2 600.99,290 601.48,294.4 601.48,321.2 601.98,287.3 601.98,319.5 602.48,334.9 602.48,292.3 602.98,306.9 602.98,331 603.48,329.9 603.48,304.9 603.98,310.1 603.98,337.6 604.48,334.9 604.48,312.7 604.98,343.7 604.98,312.1 605.48,318 605.48,355 605.98,333.2 605.98,304 606.48,342.3 606.48,304.4 606.98,299.3 606.98,333.2 607.48,328.6 607.48,295.6 607.98,322.2 607.98,284.3 608.47,312.1 608.47,286.7 608.97,287.4 608.97,310.1 609.47,316.8 609.47,292.5 609.97,328.1 609.97,295.5 610.47,323.1 610.47,287 610.97,331.6 610.97,302.8 611.47,338.6 611.47,306.8 611.97,331.4 611.97,306.4 612.47,301.6 612.47,341.1 612.97,319.7 612.97,353.2 613.47,346 613.47,306 613.97,339.8 613.97,311.7 614.48,304.8 614.48,346.3 614.99,306.2 614.99,336.3 615.49,329.8 615.49,307.2 615.99,299.3 615.99,321.9 616.49,318.8 616.49,292.5 616.98,320.7 616.98,288.3 617.48,292.2 617.48,314.6 617.98,298.2 617.98,331.9 618.48,291.3 618.48,322.6 618.98,297.2 618.98,322.3 619.48,306.1 619.48,329.9 619.98,334.7 619.98,299.8 620.48,302.9 620.48,333.5 620.98,315.6 620.98,356.8 621.48,311.9 621.48,348 621.98,348.8 621.98,311.4 622.48,346.5 622.48,303.5 622.98,306.9 622.98,336 623.48,329.5 623.48,302 623.97,328 623.97,298.3 624.47,328.8 624.47,294.9 624.97,322.6 624.97,295.5 625.47,319.8 625.47,287.7 625.97,318.9 625.97,286.2 626.47,313.2 626.47,293.4 626.97,303.5 626.97,320.3 627.47,327.5 627.47,289 627.97,330.7 627.97,307.6 628.47,309.8 628.47,347.1 628.97,329.6 628.97,304.5 629.47,308.7 629.47,349.7 629.98,348.6 629.98,310.6 630.49,301.5 630.49,333.7 630.99,324.2 630.99,299.6 631.49,336 631.49,294.1 631.99,290.7 631.99,322.6 632.48,290.1 632.48,321.8 632.98,315.5 632.98,293.5 633.48,309 633.48,286.8 633.98,288.7 633.98,321.4 634.48,313.3 634.48,289.3 634.98,291.4 634.98,323.7 635.48,295.3 635.48,334.8 635.98,306.7 635.98,343.7 636.48,341.4 636.48,303.3 636.98,307.8 636.98,354.2 637.48,310.7 637.48,345.5 637.98,303.8 637.98,341.2 638.48,340.6 638.48,305.1 638.98,311.2 638.98,339.4 639.47,341.6 639.47,302.5 639.97,331.5 639.97,305.7 640.47,330.8 640.47,297 640.97,293.9 640.97,317.4 641.47,311.4 641.47,285.6 641.97,282.4 641.97,313.5 642.47,282 642.47,311.2 642.97,290.4 642.97,322 643.47,292 643.47,316.6 643.97,301.1 643.97,327.3 644.47,330.1 644.47,301.4 644.97,302.2 644.97,332.4 645.48,312.6 645.48,341.8 645.99,347.3 645.99,316.8 646.49,308.1 646.49,356.2 646.99,306.8 646.99,344.9 647.49,335.9 647.49,306.3 647.99,286.8 647.99,334.8 648.48,299.5 648.48,326.4 648.98,319.4 648.98,298.3 649.48,317 649.48,277.2 649.98,306.9 649.98,283.1 650.48,311.9 650.48,284.6 650.98,307 650.98,287.3 651.48,319.9 651.48,289.9 651.98,315.5 651.98,290.4 652.48,329.1 652.48,290.5 652.98,298.2 652.98,331 653.48,301.2 653.48,328.2 653.98,304 653.98,336.4 654.48,343.4 654.48,315.5 654.97,311.4 654.97,355 655.47,343.1 655.47,304 655.97,307 655.97,335.3 656.47,328.8 656.47,297.6 656.97,325.9 656.97,297.9 657.47,321.5 657.47,299.4 657.97,320.2 657.97,281.7 658.47,287 658.47,313.5 658.97,286.4 658.97,313.2 659.47,313.3 659.47,295.3 659.97,298.6 659.97,321.7 660.47,327.8 660.47,305.2 660.97,332.2 660.97,305.8 661.48,299.1 661.48,339.3 661.99,309.7 661.99,339.8 662.49,318.5 662.49,345.2 662.99,314.6 662.99,349.5 663.49,359.2 663.49,318.1 663.98,345.8 663.98,318.5 664.48,337.5 664.48,304.4 664.98,330.2 664.98,297.3 665.48,323.3 665.48,292.7 665.98,295 665.98,318.9 666.48,287.7 666.48,314.1 666.98,286.8 666.98,315.3 667.48,280.5 667.48,305.6 667.98,285.4 667.98,313.2 668.48,296 668.48,322.8 668.98,322.3 668.98,304.6 669.48,303 669.48,333.2 669.98,305.9 669.98,337 670.48,330.2 670.48,310.5 670.97,312.7 670.97,343.8 671.47,355 671.47,314.9 671.97,315.1 671.97,342.6 672.47,334.7 672.47,293.4 672.97,302 672.97,331.9 673.47,301.6 673.47,320.1 673.97,318.9 673.97,292.6 674.47,293.2 674.47,317.6 674.97,319.2 674.97,289.3 675.47,283.5 675.47,315 675.97,296.9 675.97,318.2 676.47,319.7 676.47,295.7 676.98,328.9 676.98,291 677.49,295.3 677.49,324.7 677.99,333.9 677.99,302.6 678.49,304.3 678.49,335.2 678.99,309.8 678.99,340.1 679.48,352.7 679.48,310.8 679.98,307.3 679.98,338.8 680.48,327.2 680.48,290.2 680.98,301.3 680.98,337.8 681.48,296.5 681.48,331.9 681.98,328.3 681.98,284.2 682.48,288.2 682.48,311.1 682.98,280.7 682.98,303.5 683.48,275.3 683.48,316.6 683.98,287.5 683.98,306.3 684.48,286.6 684.48,305.8 684.98,291 684.98,329.2 685.48,289.4 685.48,319.8 685.98,291.2 685.98,323.3 686.47,301.5 686.47,332.9 686.97,334 686.97,306.6 687.47,349 687.47,304.3 687.97,335.9 687.97,305.7 688.47,305.6 688.47,328.7 688.97,332.1 688.97,305.3 689.47,330.4 689.47,301.6 689.97,323.9 689.97,306.2 690.47,313.1 690.47,287.2 690.97,286.4 690.97,310.5 691.47,316.9 691.47,283.6 691.97,280.8 691.97,305 692.48,287.9 692.48,311.4 692.99,320.8 692.99,296.3 693.49,293.5 693.49,317 693.99,298.4 693.99,336.1 694.49,339.8 694.49,312.1 694.99,305.6 694.99,331.1 695.48,318 695.48,337 695.98,321.3 695.98,357.7 696.48,342.4 696.48,313.3 696.98,308.3 696.98,341.2 697.48,335.4 697.48,304.3 697.98,305.6 697.98,327.4 698.48,322.7 698.48,290.1 698.98,321.8 698.98,287.7 699.48,313.3 699.48,293.1 699.98,287.2 699.98,306.1 700.48,312.2 700.48,283.5 700.98,293.2 700.98,314.7 701.48,324.9 701.48,298 701.97,319.1 701.97,297.5 702.47,295.7 702.47,329.9 702.97,343.8 702.97,303 703.47,342 703.47,305.3 703.97,346.8 703.97,309.5 704.47,314.4 704.47,350 704.97,359.2 704.97,301.4 705.47,331.4 705.47,306 705.97,340.8 705.97,310.8 706.47,326.3 706.47,299.3 706.97,292.7 706.97,317.7 707.47,281.2 707.47,306.8 707.98,311.1 707.98,289 708.49,269.3 708.49,303.2 708.99,279.5 708.99,310.1 709.49,283.8 709.49,310.1 709.99,318 709.99,294.2 710.49,296.3 710.49,322.7 710.98,326.2 710.98,297.8 711.48,331.6 711.48,295.6 711.98,334.4 711.98,303.8 712.48,305.5 712.48,338.9 712.98,338.6 712.98,310.1 713.48,334.3 713.48,302.4 713.98,296.6 713.98,352.7 714.48,333.5 714.48,297.8 714.98,327.1 714.98,289.3 715.48,317.7 715.48,291.7 715.98,306.6 715.98,282.1 716.48,307.5 716.48,284.1 716.98,279.8 716.98,304.1 717.48,312.6 717.48,284.8 717.97,289.6 717.97,314.3 718.47,324.4 718.47,290 718.97,323.2 718.97,300.2 719.47,304.2 719.47,339.3 719.97,303.4 719.97,335.4 720.47,306.7 720.47,344.4 720.97,352.3 720.97,315.9 721.47,336.7 721.47,296.4 721.97,345.4 721.97,303.6 722.47,327.7 722.47,303.2 722.97,298.1 722.97,328.6 723.47,324 723.47,294.9 723.98,312.6 723.98,283.8 724.49,282.9 724.49,306.7 724.99,307.5 724.99,274.5 725.49,277.6 725.49,306.1 725.99,275.3 725.99,309.8 726.48,318.4 726.48,285.8 726.98,325.1 726.98,294.9 727.48,293.6 727.48,334.5 727.98,301.9 727.98,332.8 728.48,306.7 728.48,328.4 728.98,312.9 728.98,334.2 729.48,351.2 729.48,308.6 729.98,332.7 729.98,304.3 730.48,328.5 730.48,307.7 730.98,304.5 730.98,325.2 731.48,319.1 731.48,296.5 731.98,314.1 731.98,293.9 732.48,311.7 732.48,289.3 732.98,308.7 732.98,278.3 733.47,311.5 733.47,280.9 733.97,313.6 733.97,285 734.47,312.3 734.47,289.2 734.97,285 734.97,317.8 735.47,298.4 735.47,330.2 735.97,333.2 735.97,299.5 736.47,301.7 736.47,329.3 736.97,302.9 736.97,331.9 737.47,334.9 737.47,312.2 737.97,350.5 737.97,307.4 738.47,303.8 738.47,335.2 738.97,292.9 738.97,323.9 739.48,321.6 739.48,298.8 739.99,322 739.99,291.3 740.49,293.8 740.49,319.4 740.99,288.3 740.99,308.4 741.49,282.3 741.49,309.5 741.99,313.6 741.99,288.6 742.48,316.9 742.48,297.5 742.98,293.8 742.98,334.4 743.48,327.9 743.48,299.8 743.98,298.1 743.98,323.5 744.48,331.9 744.48,295.6 744.98,314.8 744.98,343.5 745.48,299.3 745.48,337 745.98,355.7 745.98,313.3 746.48,306.4 746.48,339 746.98,306.1 746.98,334.9 747.48,333.4 747.48,306.4 747.98,298.4 747.98,331.3 748.48,290.2 748.48,318 748.97,325.5 748.97,281.3 749.47,311.5 749.47,286.7 749.97,287.2 749.97,309.4 750.47,307 750.47,290.3 750.97,292.8 750.97,320 751.47,287.9 751.47,316.9 751.97,299 751.97,326.1 752.47,331.6 752.47,307.9 752.97,302.5 752.97,345.1 753.47,311.6 753.47,340.9 753.97,351.1 753.97,313.4 754.47,356.2 754.47,306.1 754.98,338.6 754.98,294.5 755.49,330.8 755.49,298.6 755.99,338.3 755.99,295.7 756.49,290.9 756.49,326 756.99,313.1 756.99,290.7 757.49,316 757.49,282.5 757.98,314.9 757.98,278.7 758.48,281.6 758.48,305.4 758.98,321.4 758.98,294.3 759.48,295.4 759.48,316.8 759.98,296 759.98,322.1 760.48,307.6 760.48,327.5 760.98,344.7 760.98,305.1 761.48,335.8 761.48,309.4 761.98,308.7 761.98,348 762.48,319.8 762.48,355 762.98,311 762.98,338.9 763.48,304.8 763.48,335.1 763.98,330.3 763.98,306.4 764.48,333 764.48,302.8 764.97,284.6 764.97,320.5 765.47,315.7 765.47,292.4 765.97,315.3 765.97,279.8 766.47,285.7 766.47,310.9 766.97,290.5 766.97,310.6 767.47,311.6 767.47,288.8 767.97,303.4 767.97,326.5 768.47,303.2 768.47,336 768.97,304.7 768.97,339.6 769.47,312.2 769.47,334.8 769.97,306.9 769.97,345.3 770.47,341.8 770.47,315.8 770.98,359.2 770.98,326 771.49,319.3 771.49,344.6 771.99,341.9 771.99,302.7 772.49,307.9 772.49,328.6 772.99,321.1 772.99,294.7 773.48,317.5 773.48,289.1 773.98,286.6 773.98,309.9 774.48,307.8 774.48,277.8 774.98,306.4 774.98,281.8 775.48,284.3 775.48,308.4 775.98,281.3 775.98,322.1 776.48,325.2 776.48,302.4 776.98,296.2 776.98,331.8 777.48,332.4 777.48,312 777.98,310.4 777.98,337.8 778.48,359.2 778.48,318.4 778.98,307.1 778.98,345.3 779.48,310.1 779.48,343.6 779.98,344.1 779.98,312.8 780.47,303.6 780.47,332.3 780.97,325.6 780.97,299.6 781.47,324.7 781.47,293.5 781.97,289.4 781.97,310 782.47,303.2 782.47,281.6 782.97,304.7 782.97,275.7 783.47,286.3 783.47,307.4 783.97,286.8 783.97,319.2 784.47,279.2 784.47,311.3 784.97,299.1 784.97,317.2 785.47,317.6 785.47,291 785.97,302.5 785.97,330.1 786.48,305.6 786.48,330 786.99,307.5 786.99,350.2 787.49,337.3 787.49,308.5 787.99,327.1 787.99,303.8 788.49,322.5 788.49,300.8 788.99,333.5 788.99,293.7 789.48,280.1 789.48,312.2 789.98,319.2 789.98,284.1 790.48,306.9 790.48,284.2 790.98,300.9 790.98,280 791.48,266.7 791.48,289.6 791.98,273.4 791.98,309.6 792.48,272.9 792.48,308.9 792.98,307.2 792.98,286.3 793.48,293 793.48,325.4 793.98,294.2 793.98,323.7 794.48,331 794.48,291 794.98,311 794.98,351.2 795.48,339.1 795.48,307.5 795.97,332.2 795.97,303.5 796.47,331.3 796.47,298.3 796.97,326.4 796.97,294 797.47,319.5 797.47,291.7 797.97,286.8 797.97,325.1 798.47,321.5 798.47,292.3 798.97,286.4 798.97,307.4 799.47,301.1 799.47,280.4 799.97,277 799.97,308.7 800.47,275.3 800.47,306.9 800.97,284.3 800.97,314.9 801.47,318.4 801.47,291.3 801.98,327.3 801.98,289.4 802.49,302 802.49,329.1 802.99,294.2 802.99,331.3 803.49,303 803.49,336.3 803.99,345.7 803.99,298.2 804.49,332.4 804.49,306 804.98,326.1 804.98,282.2 805.48,332.6 805.48,306.6 805.98,325.1 805.98,299.7 806.48,288 806.48,315.7 806.98,313.3 806.98,298.4 807.48,287.6 807.48,314.8 807.98,279.8 807.98,306.4 808.48,312.1 808.48,285.9 808.98,290.5 808.98,314.9 809.48,293.6 809.48,316.8 809.98,324.7 809.98,302.2 810.48,302.1 810.48,331.4 810.98,299.8 810.98,334.6 811.48,310.1 811.48,333.7 811.97,300.2 811.97,350.2 812.47,344 812.47,304.8 812.97,304.5 812.97,337.3 813.47,326.1 813.47,286.7 813.97,292.6 813.97,321.7 814.47,315.5 814.47,288.6 814.97,313.2 814.97,282.2 815.47,288.4 815.47,307.2 815.97,311.6 815.97,280.6 816.47,283.6 816.47,302.8 816.97,304.4 816.97,273 817.47,290.8 817.47,324.7 817.98,291.8 817.98,318.6 818.49,292.3 818.49,322.6 818.99,299.3 818.99,320.9 819.49,297.6 819.49,332.3 819.99,340.9 819.99,305.6 820.48,344.8 820.48,316.4 820.98,354.7 820.98,306.3 821.48,299.5 821.48,341.3 821.98,333.9 821.98,304.9 822.48,326.6 822.48,289.1 822.98,325 822.98,290.3 823.48,319.9 823.48,282.5 823.98,275.3 823.98,305.2 824.48,276.3 824.48,303 824.98,304.8 824.98,284.5 825.48,287 825.48,311.8 825.98,316.3 825.98,298.8 826.48,321.8 826.48,296.4 826.98,303 826.98,332.6 827.47,343.8 827.47,300.8 827.97,311.3 827.97,336.9 828.47,355 828.47,312.2 828.97,306.9 828.97,336.7 829.47,344.8 829.47,309.8 829.97,300.8 829.97,341.5 830.47,294.6 830.47,325.8 830.97,296.5 830.97,320.2 831.47,322 831.47,287 831.97,307.2 831.97,282.3 832.47,304.2 832.47,274.5 832.97,276.9 832.97,303.9 833.48,282.4 833.48,302.2 833.99,291.6 833.99,313.7 834.49,284.9 834.49,315.7 834.99,296.5 834.99,330.3 835.49,292.1 835.49,332.9 835.98,310.8 835.98,332.3 836.48,306.4 836.48,343.1 836.98,337.9 836.98,307 837.48,335.2 837.48,302.1 837.98,349.4 837.98,302.3 838.48,303.9 838.48,331.5 838.98,319.1 838.98,283.5 839.48,326.5 839.48,296.6 839.98,316 839.98,293.6 840.48,320.1 840.48,287.6 840.98,312.4 840.98,281.7 841.48,284.7 841.48,314.3 841.98,309.9 841.98,282.7 842.48,292.1 842.48,318.4 842.97,319.5 842.97,298.7 843.47,295.5 843.47,323.9 843.97,304.2 843.97,332.4 844.47,292.8 844.47,328.8 844.97,346 844.97,308.3 845.47,330 845.47,300.8 845.97,327.2 845.97,300 846.47,299.2 846.47,324.4 846.97,294.9 846.97,325.5 847.47,327.6 847.47,282.4 847.97,320.9 847.97,283.3 848.47,288.3 848.47,313.1 848.98,282.4 848.98,305.3 849.49,303.6 849.49,281.8 849.99,281.2 849.99,313.3 850.49,311 850.49,272.3 850.99,293.1 850.99,316.4 851.49,295.1 851.49,321.5 851.98,289.2 851.98,333.7 852.48,327 852.48,307.1 852.98,311 852.98,338.8 853.48,313 853.48,346 853.98,341 853.98,295.6 854.48,307.1 854.48,342.9 854.98,324.4 854.98,297.3 855.48,300.7 855.48,327.1 855.98,318.2 855.98,295.7 856.48,317.7 856.48,292.1 856.98,318 856.98,292.8 857.48,311.7 857.48,285.8 857.98,293.3 857.98,313 858.48,295 858.48,323.1 858.97,325 858.97,293.1 859.47,323.5 859.47,300.4 859.97,299.4 859.97,328.5 860.47,306.3 860.47,337.3 860.97,338.3 860.97,303.3 861.47,312.4 861.47,352.7 861.97,312.5 861.97,337.4 862.47,314.2 862.47,347.3 862.97,307.6 862.97,338.1 863.47,333.7 863.47,299.2 863.97,300.1 863.97,325.8 864.47,325 864.47,291.2 864.75,306.1 864.75,308.7"/>
<path class="tk" d="M202.5,378.5 v5 M285.5,378.5 v5 M367.5,378.5 v5 M450.5,378.5 v5 M533.5,378.5 v5 M616.5,378.5 v5 M699.5,378.5 v5 M782.5,378.5 v5 M865.5,378.5 v5 M125.5,337.5 h-5 M125.5,281.5 h-5"/>
<text class="t" transform="translate(169.65,415.33) rotate(-30)" textLength="35.00" lengthAdjust="spacingAndGlyphs">2020</text>
<text class="t" transform="translate(252.55,415.33) rotate(-30)" textLength="35.00" lengthAdjust="spacingAndGlyphs">2030</text>
<text class="t" transform="translate(335.43,415.33) rotate(-30)" textLength="35.00" lengthAdjust="spacingAndGlyphs">2040</text>
<text class="t" transform="translate(418.33,415.33) rotate(-30)" textLength="35.00" lengthAdjust="spacingAndGlyphs">2050</text>
<text class="t" transform="translate(501.21,415.33) rotate(-30)" textLength="35.00" lengthAdjust="spacingAndGlyphs">2060</text>
<text class="t" transform="translate(584.11,415.33) rotate(-30)" textLength="35.00" lengthAdjust="spacingAndGlyphs">2070</text>
<text class="t" transform="translate(666.99,415.33) rotate(-30)" textLength="35.00" lengthAdjust="spacingAndGlyphs">2080</text>
<text class="t" transform="translate(749.89,415.33) rotate(-30)" textLength="35.00" lengthAdjust="spacingAndGlyphs">2090</text>
<text class="t" transform="translate(832.77,415.33) rotate(-30)" textLength="35.00" lengthAdjust="spacingAndGlyphs">2100</text>
<text class="t" x="113.40" y="342.05" text-anchor="end" textLength="33.10" lengthAdjust="spacingAndGlyphs">6500</text>
<text class="t" x="113.40" y="287.05" text-anchor="end" textLength="33.10" lengthAdjust="spacingAndGlyphs">7000</text>
<text class="t" transform="translate(70.60,320.81) rotate(-90)" text-anchor="middle" textLength="55.25" lengthAdjust="spacingAndGlyphs">fieldmin</text>
<rect class="sp" x="125.5" y="261.5" width="775" height="117"/>
</g>
<g id="ax2">
<rect x="125.0" y="401.38" width="775.0" height="117.24" fill="#fff"/>
<path class="ln" style="stroke-width:2.5" d="M160.48,490.1 160.48,504.8 160.99,505.3 160.99,481.9 161.49,476.8 161.49,496.2 161.99,501.2 161.99,484.8 162.49,505.5 162.49,486 162.98,489.9 162.98,505.1 163.48,504.1 163.48,485.7 163.98,506.7 163.98,491.4 164.48,493.7 164.48,510 164.98,506.8 164.98,488.5 165.48,492.9 165.48,509.8 165.98,506.8 165.98,485 166.48,492.4 166.48,509 166.98,506 166.98,491.5 167.48,485.5 167.48,505.1 167.98,490.2 167.98,503.8 168.48,495.5 168.48,480 168.98,486.9 168.98,501.7 169.48,493.1 169.48,473 169.97,471.5 169.97,496.5 170.47,480.4 170.47,499.7 170.97,481.5 170.97,498.6 171.47,485.4 171.47,504.5 171.97,484.6 171.97,501.8 172.47,490.5 172.47,503 172.97,491.5 172.97,501.8 173.47,484.9 173.47,504.6 173.97,503.1 173.97,485.4 174.47,504.8 174.47,483 174.97,487.1 174.97,503.8 175.47,503 175.47,483.8 175.98,500.5 175.98,484.3 176.49,483.3 176.49,501.2 176.99,500.4 176.99,485.3 177.49,493.7 177.49,475.9 177.99,483.3 177.99,463.7 178.48,473.6 178.48,497 178.98,486.6 178.98,503.3 179.48,485.3 179.48,504.7 179.98,480.9 179.98,503.2 180.48,488.3 180.48,505.2 180.98,509.9 180.98,490.6 181.48,491.5 181.48,509.9 181.98,504.8 181.98,488.6 182.48,488.4 182.48,505.3 182.98,494 182.98,506.1 183.48,507.5 183.48,491.1 183.98,504.4 183.98,490.9 184.48,505.1 184.48,484 184.98,488 184.98,502.9 185.47,501.3 185.47,484.7 185.97,499.3 185.97,474.3 186.47,495.8 186.47,478.6 186.97,485.9 186.97,503.9 187.47,487.9 187.47,504.6 187.97,490.5 187.97,505.8 188.47,488.7 188.47,505.7 188.97,504.4 188.97,484.5 189.47,487 189.47,503.1 189.97,489.6 189.97,502.3 190.47,484.2 190.47,503.6 190.97,501 190.97,486.2 191.48,502.1 191.48,481.7 191.99,484.2 191.99,498.7 192.49,481.5 192.49,501.4 192.99,488.6 192.99,512 193.49,500.4 193.49,478.2 193.99,494.8 193.99,469.4 194.48,458.8 194.48,482.6 194.98,472.3 194.98,494.2 195.48,495.7 195.48,473.1 195.98,473.1 195.98,493.3 196.48,498.1 196.48,484.4 196.98,484.6 196.98,497.9 197.48,497.8 197.48,480.8 197.98,475.6 197.98,500.6 198.48,500.6 198.48,485 198.98,500.2 198.98,484.5 199.48,499.9 199.48,484.5 199.98,486.4 199.98,501 200.48,501 200.48,485.1 200.97,482.3 200.97,501.9 201.47,498.3 201.47,477.9 201.97,496.4 201.97,477.8 202.47,493.2 202.47,466 202.97,461.5 202.97,483.9 203.47,478.7 203.47,500.6 203.97,503.8 203.97,484.4 204.47,488.4 204.47,503.8 204.97,501.3 204.97,483.5 205.47,484.6 205.47,509.9 205.97,513.5 205.97,492 206.47,509.6 206.47,488 206.98,508.8 206.98,492.2 207.49,489.9 207.49,506.7 207.99,491 207.99,507.5 208.49,489.7 208.49,509.1 208.99,508 208.99,491.8 209.49,505.7 209.49,487.2 209.98,506.8 209.98,491.4 210.48,486.3 210.48,501.1 210.98,504.1 210.98,484 211.48,477.3 211.48,496 211.98,483.9 211.98,502.2 212.48,483.5 212.48,501 212.98,486.7 212.98,503.6 213.48,487.9 213.48,505.4 213.98,488.5 213.98,505.3 214.48,489.7 214.48,505 214.98,489.6 214.98,506.4 215.48,501.8 215.48,486 215.98,504.5 215.98,491.4 216.48,503.8 216.48,487.6 216.97,501.4 216.97,486.6 217.47,503 217.47,485.4 217.97,502.7 217.97,485.9 218.47,501.2 218.47,484.5 218.97,494.9 218.97,480 219.47,467.6 219.47,482.9 219.97,476.4 219.97,495.7 220.47,497.5 220.47,481.2 220.97,501.5 220.97,486.4 221.47,485.7 221.47,499.2 221.97,504.3 221.97,488.6 222.47,485 222.47,502.3 222.98,504.7 222.98,481.8 223.49,487.7 223.49,503.9 223.99,500.4 223.99,485.1 224.49,497.3 224.49,482.7 224.99,501.1 224.99,484.3 225.48,499.3 225.48,483.9 225.98,485.6 225.98,501.7 226.48,499.5 226.48,484.4 226.98,497.9 226.98,483.2 227.48,498.6 227.48,481.3 227.98,497.3 227.98,475.3 228.48,484.2 228.48,497.5 228.98,484.6 228.98,501 229.48,500.7 229.48,487.9 229.98,481.8 229.98,496.4 230.48,482.3 230.48,500.7 230.98,504.7 230.98,487.5 231.48,487.5 231.48,505.2 231.98,491.2 231.98,504 232.47,504.7 232.47,488.6 232.97,505.8 232.97,485.3 233.47,503.4 233.47,485.7 233.97,502.7 233.97,487.3 234.47,502.8 234.47,491.4 234.97,500.6 234.97,483.3 235.47,501.3 235.47,481.6 235.97,493.3 235.97,479.2 236.47,470.1 236.47,490.1 236.97,480.2 236.97,496.8 237.47,483.5 237.47,501.9 237.97,501.3 237.97,483.5 238.48,488.6 238.48,504.3 238.99,492.2 238.99,505 239.49,489.8 239.49,509.1 239.99,508.2 239.99,484.5 240.49,482.2 240.49,503.2 240.99,504.5 240.99,488.4 241.48,505.4 241.48,486.3 241.98,504.4 241.98,488.7 242.48,488.7 242.48,506.4 242.98,487.6 242.98,505.8 243.48,501.4 243.48,483.9 243.98,497.2 243.98,477.2 244.48,476.3 244.48,495.9 244.98,481.7 244.98,501.9 245.48,506.2 245.48,488.3 245.98,481.7 245.98,499.4 246.48,499.7 246.48,482.3 246.98,499.7 246.98,485.2 247.48,484 247.48,501.5 247.97,487.2 247.97,499 248.47,481.6 248.47,495.4 248.97,502.7 248.97,485.6 249.47,498.4 249.47,481.7 249.97,484.2 249.97,501.1 250.47,498.1 250.47,483.7 250.97,496.9 250.97,479.7 251.47,480.2 251.47,496.7 251.97,495.1 251.97,476.6 252.47,488.6 252.47,462.5 252.97,464.6 252.97,490.5 253.47,477.6 253.47,490.4 253.98,481.2 253.98,499.9 254.49,498.8 254.49,484.2 254.99,500.7 254.99,486.4 255.49,484.4 255.49,500.8 255.99,500.4 255.99,482.3 256.49,487.7 256.49,501.8 256.98,485.2 256.98,503.7 257.48,503.7 257.48,486.6 257.98,502.1 257.98,485 258.48,484.1 258.48,499.7 258.98,481.3 258.98,498.4 259.48,496.6 259.48,481.2 259.98,475.7 259.98,494 260.48,488.7 260.48,474.8 260.98,477.6 260.98,452 261.48,465.8 261.48,485.9 261.98,475.8 261.98,492.1 262.48,494.6 262.48,483.1 262.98,490 262.98,471.9 263.48,474.6 263.48,495.9 263.97,498.9 263.97,482.5 264.47,479.5 264.47,494.1 264.97,497.4 264.97,484 265.47,482.7 265.47,496.2 265.97,501.1 265.97,481.5 266.47,481.5 266.47,498.6 266.97,481.3 266.97,499.1 267.47,496.3 267.47,479.4 267.97,495.8 267.97,476.3 268.47,492.1 268.47,463.6 268.97,458.8 268.97,484.3 269.47,471.9 269.47,492.5 269.98,481 269.98,498.2 270.49,501.3 270.49,483.3 270.99,499.2 270.99,479.9 271.49,483.7 271.49,501.6 271.99,496.8 271.99,482.4 272.48,486 272.48,503.3 272.98,492.2 272.98,506.7 273.48,506.4 273.48,485.4 273.98,485.7 273.98,503.3 274.48,503.6 274.48,486.4 274.98,503 274.98,485.2 275.48,484.5 275.48,500.5 275.98,488.3 275.98,503.5 276.48,501.7 276.48,485.6 276.98,499.6 276.98,481.9 277.48,496.5 277.48,474.1 277.98,476.3 277.98,494.8 278.48,499.7 278.48,478.7 278.98,476.7 278.98,492.5 279.47,483.1 279.47,500 279.97,484.8 279.97,500.6 280.47,500.4 280.47,485.1 280.97,483.3 280.97,503.3 281.47,502.9 281.47,486.9 281.97,500.1 281.97,476.8 282.47,478.3 282.47,496.2 282.97,498.3 282.97,484.3 283.47,481.2 283.47,497.8 283.97,499.6 283.97,482.7 284.47,495.5 284.47,481.4 284.97,491.8 284.97,477.6 285.48,491.1 285.48,472 285.99,462.1 285.99,484.3 286.49,472.3 286.49,492 286.99,478.6 286.99,499.8 287.49,493.8 287.49,477.4 287.98,476.4 287.98,493.3 288.48,478.9 288.48,494 288.98,480 288.98,498 289.48,494.6 289.48,478.8 289.98,482.4 289.98,497.2 290.48,495.3 290.48,479.1 290.98,481.7 290.98,495.7 291.48,498.9 291.48,480 291.98,493.5 291.98,476.7 292.48,479 292.48,496.3 292.98,495.4 292.98,480 293.48,488.6 293.48,470.7 293.98,480.9 293.98,460.3 294.48,471.7 294.48,492.2 294.97,481 294.97,494.2 295.47,482.7 295.47,496.3 295.97,497 295.97,481.8 296.47,478.6 296.47,497.9 296.97,480.8 296.97,497.9 297.47,499.6 297.47,482.7 297.97,500 297.97,486.8 298.47,482.7 298.47,497.9 298.97,500.9 298.97,485.2 299.47,486 299.47,503.8 299.97,500.8 299.97,478.8 300.47,494.9 300.47,479.5 300.98,492.6 300.98,478.7 301.49,496.8 301.49,474.8 301.99,487.8 301.99,465.9 302.49,467.3 302.49,488.6 302.99,477.4 302.99,493.8 303.49,481.6 303.49,496 303.98,496.7 303.98,480.3 304.48,476.4 304.48,500.3 304.98,497.1 304.98,481.8 305.48,482 305.48,498.1 305.98,478.5 305.98,495.1 306.48,494 306.48,478.6 306.98,478 306.98,495.3 307.48,494.4 307.48,479.4 307.98,498.6 307.98,481.1 308.48,495.4 308.48,476.9 308.98,471.3 308.98,491.3 309.48,479.4 309.48,495.7 309.98,492.5 309.98,478.3 310.48,484.9 310.48,465.2 310.97,468.6 310.97,490.5 311.47,477.8 311.47,494.5 311.97,497.9 311.97,482.2 312.47,482.5 312.47,497.9 312.97,500.2 312.97,485.8 313.47,485.6 313.47,497.7 313.97,483.2 313.97,500.9 314.47,499.7 314.47,484.1 314.97,500 314.97,485.6 315.47,503.5 315.47,481.7 315.97,499.9 315.97,482.5 316.47,497.7 316.47,480.7 316.98,495.7 316.98,477.8 317.49,478.5 317.49,497.1 317.99,474.4 317.99,489.6 318.49,490.1 318.49,460.3 318.99,464.1 318.99,485 319.48,478 319.48,495.1 319.98,476.6 319.98,494.6 320.48,480.9 320.48,494.8 320.98,493.8 320.98,480.5 321.48,494.7 321.48,471.8 321.98,493.6 321.98,481.1 322.48,479.7 322.48,496.7 322.98,494.3 322.98,481.3 323.48,478.3 323.48,498.2 323.98,496.7 323.98,480.7 324.48,480.9 324.48,493.8 324.98,478.8 324.98,495.8 325.48,496.9 325.48,479.8 325.98,482.1 325.98,494.8 326.47,495.4 326.47,480.6 326.97,489 326.97,471.4 327.47,465.8 327.47,486.7 327.97,478.4 327.97,492.3 328.47,485.5 328.47,497 328.97,485.4 328.97,506.3 329.47,505.5 329.47,483.5 329.97,487.2 329.97,501.4 330.47,485.4 330.47,504.6 330.97,490.1 330.97,504.2 331.47,490.6 331.47,504.8 331.97,508.1 331.97,488.6 332.48,481.6 332.48,506.8 332.99,490 332.99,506.8 333.49,506 333.49,489 333.99,500.2 333.99,482.6 334.49,483.7 334.49,500.7 334.98,495.7 334.98,480.2 335.48,473 335.48,496.1 335.98,484.2 335.98,500.9 336.48,498.5 336.48,483.9 336.98,502.5 336.98,486.7 337.48,483.6 337.48,503 337.98,484.8 337.98,504.1 338.48,501.9 338.48,479.2 338.98,483.1 338.98,503.5 339.48,503.5 339.48,489.1 339.98,486.2 339.98,507.1 340.48,498.6 340.48,483.2 340.98,484.3 340.98,500.8 341.48,488 341.48,502 341.97,484.2 341.97,503.1 342.47,484.4 342.47,498.9 342.97,496.8 342.97,484.2 343.47,490.8 343.47,472.3 343.97,477.9 343.97,495 344.47,494.7 344.47,479 344.97,481.5 344.97,499.7 345.47,479.6 345.47,498.9 345.97,481.7 345.97,497.7 346.47,495.9 346.47,482.4 346.97,486.2 346.97,500.5 347.47,482.4 347.47,501.5 347.98,500.3 347.98,483.9 348.49,495.8 348.49,478.9 348.99,480.4 348.99,497.3 349.49,478.9 349.49,495.6 349.99,491.8 349.99,478 350.49,492.9 350.49,477.2 350.98,476.4 350.98,492.8 351.48,471.5 351.48,489.5 351.98,484.5 351.98,457.8 352.48,463.4 352.48,482.6 352.98,489.7 352.98,473.4 353.48,470.8 353.48,489.4 353.98,476.3 353.98,493.9 354.48,494.8 354.48,482.7 354.98,495.8 354.98,476.1 355.48,496.9 355.48,476.1 355.98,492.1 355.98,476.9 356.48,476 356.48,495.9 356.98,476.9 356.98,493 357.48,478.5 357.48,498 357.97,494.3 357.97,478.6 358.47,473.8 358.47,492.6 358.97,493.4 358.97,477.4 359.47,493.7 359.47,476 359.97,486.5 359.97,464.8 360.47,462.5 360.47,482.6 360.97,471.4 360.97,487.6 361.47,474 361.47,491.1 361.97,478.3 361.97,492.3 362.47,495.9 362.47,476.6 362.97,472.8 362.97,493.1 363.47,476.7 363.47,495.8 363.98,478.9 363.98,498.2 364.49,494 364.49,478 364.99,477.1 364.99,496.1 365.49,478.5 365.49,493.6 365.99,495.8 365.99,477.6 366.48,493.8 366.48,478.5 366.98,476.2 366.98,493.1 367.48,492.2 367.48,476.5 367.98,485 367.98,465 368.48,471.7 368.48,450.6 368.98,457.3 368.98,484.4 369.48,472.8 369.48,488.3 369.98,492.5 369.98,476 370.48,474.8 370.48,494.9 370.98,494.1 370.98,477.6 371.48,476.9 371.48,496.4 371.98,477.7 371.98,494.8 372.48,497.1 372.48,480.1 372.98,497.9 372.98,484.8 373.47,496.6 373.47,480.8 373.97,496.3 373.97,479.4 374.47,493.9 374.47,477.6 374.97,491.2 374.97,475.8 375.47,490.7 375.47,472.4 375.97,487.3 375.97,475.4 376.47,487.4 376.47,467.4 376.97,455 376.97,479 377.47,472.4 377.47,488.8 377.97,493.8 377.97,478.2 378.47,495.5 378.47,478.9 378.97,480.5 378.97,496.5 379.48,495.8 379.48,472.5 379.99,471.5 379.99,495.4 380.49,478.5 380.49,497.4 380.99,477.1 380.99,496.4 381.49,501.6 381.49,481.6 381.98,481.3 381.98,495.4 382.48,489.6 382.48,464.7 382.98,474.1 382.98,493.4 383.48,493.8 383.48,477.5 383.98,493.3 383.98,478.4 384.48,490.7 384.48,472.2 384.98,480.8 384.98,466 385.48,471.9 385.48,488.7 385.98,492.6 385.98,474.7 386.48,490.5 386.48,475.7 386.98,494.1 386.98,467.9 387.48,474.4 387.48,492.3 387.98,492.9 387.98,479.9 388.48,477.2 388.48,494.2 388.97,476.6 388.97,494.2 389.47,494.1 389.47,477.6 389.97,491.8 389.97,474.4 390.47,476.1 390.47,492.9 390.97,489.1 390.97,477 391.47,492.8 391.47,474.8 391.97,471.2 391.97,489.5 392.47,487.3 392.47,471.1 392.97,478.9 392.97,459.1 393.47,461 393.47,481.9 393.97,470.2 393.97,484.7 394.47,475.4 394.47,491.2 394.98,492.6 394.98,474.8 395.49,489 395.49,471 395.99,494.1 395.99,474.4 396.49,472.1 396.49,490.2 396.99,492.3 396.99,478.6 397.49,494.6 397.49,472.9 397.98,473.2 397.98,489.7 398.48,469.9 398.48,489.4 398.98,490.1 398.98,471.5 399.48,490.8 399.48,475.3 399.98,488.4 399.98,467.7 400.48,470.9 400.48,488.9 400.98,466.6 400.98,481.1 401.48,454.6 401.48,473 401.98,467.6 401.98,488.2 402.48,489.8 402.48,473.2 402.98,490 402.98,471.5 403.48,475.1 403.48,491.3 403.98,492.7 403.98,476.3 404.47,494.3 404.47,477 404.97,497.6 404.97,482.2 405.47,496.7 405.47,482.5 405.97,472.9 405.97,495.8 406.47,481.9 406.47,500.6 406.97,501.5 406.97,479.8 407.47,478.2 407.47,496.2 407.97,479.8 407.97,494.8 408.47,495.3 408.47,479.2 408.97,477.6 408.97,493.4 409.47,489.4 409.47,471.1 409.97,478.9 409.97,454.7 410.47,460.2 410.47,481.2 410.98,474.5 410.98,488.6 411.49,491.5 411.49,476.7 411.99,493.9 411.99,477.7 412.49,473.7 412.49,493.2 412.99,495.2 412.99,479.9 413.48,483.2 413.48,498 413.98,483.2 413.98,495.3 414.48,497.3 414.48,480 414.98,478.7 414.98,497.7 415.48,494.8 415.48,477.9 415.98,495.8 415.98,476.6 416.48,475.3 416.48,492.8 416.98,491.7 416.98,473.4 417.48,471.5 417.48,484.6 417.98,480.3 417.98,454.3 418.48,454.6 418.48,479.8 418.98,465.6 418.98,484.4 419.48,490 419.48,475.2 419.98,470.6 419.98,488.4 420.47,471.5 420.47,485.5 420.97,475.2 420.97,491.6 421.47,485.5 421.47,467.6 421.97,471.2 421.97,490.5 422.47,491.4 422.47,467.9 422.97,487.7 422.97,474.6 423.47,491.1 423.47,466.9 423.97,490.9 423.97,472.4 424.47,471.4 424.47,486.6 424.97,488.2 424.97,474 425.47,492.3 425.47,473.8 425.97,481.5 425.97,464.6 426.48,453.9 426.48,474.7 426.99,468.2 426.99,485 427.49,469 427.49,482.8 427.99,483.9 427.99,468 428.49,490.8 428.49,466.5 428.98,468.8 428.98,489.6 429.48,469.7 429.48,489.1 429.98,475.3 429.98,493.5 430.48,476.1 430.48,494.6 430.98,479.3 430.98,494.4 431.48,491.5 431.48,476.8 431.98,493.9 431.98,477.3 432.48,490.7 432.48,474.5 432.98,474.1 432.98,490.2 433.48,473.8 433.48,490.3 433.98,487.8 433.98,471.7 434.48,483.1 434.48,464.4 434.98,474.6 434.98,453.6 435.48,460.8 435.48,484.5 435.97,470.9 435.97,488.2 436.47,492.1 436.47,472.1 436.97,489 436.97,472.9 437.47,474.7 437.47,489.5 437.97,487 437.97,470.9 438.47,470.4 438.47,486.1 438.97,476.6 438.97,493.5 439.47,475.9 439.47,494.2 439.97,491.3 439.97,471.6 440.47,473.8 440.47,489.9 440.97,486.9 440.97,470.7 441.47,487.5 441.47,469.9 441.98,467.2 441.98,485.7 442.49,485.5 442.49,469.4 442.99,479.4 442.99,458.1 443.49,455.3 443.49,478.3 443.99,466.5 443.99,485.5 444.49,492.3 444.49,473.9 444.98,484.9 444.98,468.4 445.48,469.2 445.48,485.1 445.98,471.1 445.98,485.3 446.48,469.7 446.48,488 446.98,467.1 446.98,484.8 447.48,468 447.48,484.5 447.98,489.4 447.98,473.9 448.48,485.5 448.48,469 448.98,468.5 448.98,486.5 449.48,467.6 449.48,483.8 449.98,468.4 449.98,482.8 450.48,479.4 450.48,462.6 450.98,479.7 450.98,460.3 451.47,468.3 451.47,448.4 451.97,459.7 451.97,477.5 452.47,482.7 452.47,465 452.97,461.8 452.97,481.9 453.47,481.5 453.47,459.9 453.97,464.4 453.97,485.4 454.47,471.4 454.47,485.6 454.97,487.5 454.97,471.6 455.47,473.6 455.47,489.4 455.97,489.7 455.97,472.1 456.47,488 456.47,473.3 456.97,487.2 456.97,472.6 457.48,487.1 457.48,468.1 457.99,468.6 457.99,483.7 458.49,484.3 458.49,472.9 458.99,468.2 458.99,483.3 459.49,481.2 459.49,459.1 459.99,455.8 459.99,477.1 460.48,470.4 460.48,482.5 460.98,487 460.98,469.9 461.48,470.6 461.48,487.6 461.98,473.2 461.98,490.6 462.48,490.9 462.48,469.7 462.98,474.1 462.98,493 463.48,476.5 463.48,494.5 463.98,476.3 463.98,492.7 464.48,478.8 464.48,495.5 464.98,495.8 464.98,476.6 465.48,475.6 465.48,489.5 465.98,475.5 465.98,490.9 466.48,476.6 466.48,490.1 466.98,489.3 466.98,473.3 467.47,487.2 467.47,464.1 467.97,477.7 467.97,450.2 468.47,455.1 468.47,480.9 468.97,469.9 468.97,486.2 469.47,488.7 469.47,472.2 469.97,473.5 469.97,488.2 470.47,470.1 470.47,489.6 470.97,476.4 470.97,492.8 471.47,476.3 471.47,491.5 471.97,475.5 471.97,492.1 472.47,493.1 472.47,479.5 472.97,491.4 472.97,471.2 473.48,475.4 473.48,490.5 473.99,471.2 473.99,487.2 474.49,491.1 474.49,475.3 474.99,490 474.99,471.8 475.49,467.7 475.49,485.7 475.98,482 475.98,462.3 476.48,452.8 476.48,476.7 476.98,482.6 476.98,469.5 477.48,474.2 477.48,487.7 477.98,473.9 477.98,487.7 478.48,488.8 478.48,473.1 478.98,473.7 478.98,488.7 479.48,478.3 479.48,495 479.98,492.7 479.98,479.5 480.48,480.1 480.48,494 480.98,492.2 480.98,480.5 481.48,475.1 481.48,491.3 481.98,475.8 481.98,493.7 482.48,475.1 482.48,490.3 482.97,488.6 482.97,472.3 483.47,471.8 483.47,487.8 483.97,482.4 483.97,466.8 484.47,484.8 484.47,456.8 484.97,456.4 484.97,477.8 485.47,468.1 485.47,485 485.97,487.4 485.97,467.5 486.47,485.1 486.47,469.8 486.97,484.9 486.97,470.1 487.47,470 487.47,485.8 487.97,463.7 487.97,484.9 488.47,472.5 488.47,489 488.98,485.4 488.98,469.7 489.49,487.2 489.49,467.1 489.99,478.9 489.99,459 490.49,463.5 490.49,484 490.99,468.6 490.99,487.6 491.49,486.2 491.49,468.3 491.98,468.9 491.98,485.4 492.48,480.6 492.48,456.6 492.98,447.8 492.98,468.6 493.48,462.7 493.48,478.5 493.98,471.1 493.98,486.7 494.48,469.3 494.48,487.7 494.98,474.9 494.98,487.8 495.48,471.7 495.48,491.5 495.98,494.9 495.98,472.7 496.48,472 496.48,492.6 496.98,492.3 496.98,477.6 497.48,494.9 497.48,476 497.98,478.1 497.98,493.9 498.47,490.4 498.47,475 498.97,475.3 498.97,492.1 499.47,488.9 499.47,473.8 499.97,475.3 499.97,491.6 500.47,470.9 500.47,487.7 500.97,479.1 500.97,458.8 501.47,460.7 501.47,482.4 501.97,467.9 501.97,487.1 502.47,474.6 502.47,490.8 502.97,481.1 502.97,493.9 503.47,475.3 503.47,491.4 503.97,475.6 503.97,492.6 504.48,496 504.48,479.3 504.99,478.9 504.99,495.3 505.49,498.2 505.49,479.9 505.99,478.2 505.99,498.3 506.49,494.9 506.49,476.5 506.99,492.4 506.99,477.9 507.48,490.4 507.48,477.4 507.98,472.8 507.98,492.1 508.48,487.6 508.48,472.1 508.98,478 508.98,455.2 509.48,449.8 509.48,476.4 509.98,464.5 509.98,480.9 510.48,472.2 510.48,488.7 510.98,469.8 510.98,490.7 511.48,486.7 511.48,472.6 511.98,471.6 511.98,487.5 512.48,470 512.48,492.4 512.98,474.2 512.98,492.3 513.48,488.9 513.48,471.4 513.98,474.4 513.98,487.3 514.47,488.7 514.47,475.4 514.97,485.3 514.97,469.8 515.47,484.4 515.47,471.3 515.97,470.7 515.97,485.7 516.47,466.1 516.47,482 516.97,483.9 516.97,462.3 517.47,477.3 517.47,456.9 517.97,451.3 517.97,475.6 518.47,467.1 518.47,480 518.97,466.7 518.97,483.7 519.47,468.7 519.47,485 519.97,478.8 519.97,465.3 520.48,466 520.48,487.1 520.99,485.2 520.99,469.7 521.49,469.4 521.49,489 521.99,471.7 521.99,486.7 522.49,471.4 522.49,486.7 522.98,484.6 522.98,458.1 523.48,461 523.48,480.9 523.98,470.1 523.98,484.8 524.48,488.3 524.48,468.8 524.98,482.2 524.98,462.7 525.48,480 525.48,460.8 525.98,458.8 525.98,480.4 526.48,468.2 526.48,480.4 526.98,466.5 526.98,483.6 527.48,465.7 527.48,485.5 527.98,465.8 527.98,486.7 528.48,487 528.48,468.3 528.98,487.6 528.98,470.3 529.48,470 529.48,485.5 529.97,490.8 529.97,463.4 530.47,460.6 530.47,483.4 530.97,486.4 530.97,471.1 531.47,484.3 531.47,466.6 531.97,467.1 531.97,485.9 532.47,482.9 532.47,464.3 532.97,465.1 532.97,481.9 533.47,481.7 533.47,463.4 533.97,476.7 533.97,451.7 534.47,449.8 534.47,474.4 534.97,463.6 534.97,477.9 535.47,482.2 535.47,467.5 535.98,469.5 535.98,483.1 536.49,485.1 536.49,470.1 536.99,463.4 536.99,483.9 537.49,481.8 537.49,462.6 537.99,467.8 537.99,483.7 538.49,469 538.49,488.2 538.98,486 538.98,470.6 539.48,483.7 539.48,467.7 539.98,485.5 539.98,466.8 540.48,483.2 540.48,465.4 540.98,482.7 540.98,464.2 541.48,478.3 541.48,465.2 541.98,475 541.98,455.9 542.48,461.9 542.48,444.4 542.98,450.3 542.98,475.3 543.48,462.6 543.48,479.1 543.98,479 543.98,463.1 544.48,466.7 544.48,482.1 544.98,481.5 544.98,465.4 545.47,461.5 545.47,481.9 545.97,465.9 545.97,482.7 546.47,484.4 546.47,468.8 546.97,485 546.97,467.7 547.47,485.2 547.47,467.6 547.97,482.6 547.97,467.1 548.47,486.6 548.47,474.3 548.97,467.4 548.97,481.5 549.47,477.2 549.47,464.2 549.97,478 549.97,462.7 550.47,460.8 550.47,476.8 550.97,453 550.97,471.9 551.48,463.3 551.48,478.9 551.99,467.4 551.99,482.8 552.49,479.3 552.49,464.1 552.99,480.6 552.99,463.1 553.49,464.9 553.49,480 553.99,482.1 553.99,466.5 554.48,483.4 554.48,465.5 554.98,464.8 554.98,478.3 555.48,481.9 555.48,465.3 555.98,466.3 555.98,482.8 556.48,480.9 556.48,458.5 556.98,464.6 556.98,479.1 557.48,482.1 557.48,459.9 557.98,455.7 557.98,473.9 558.48,476.6 558.48,456.8 558.98,469.6 558.98,446.8 559.48,451.7 559.48,469.5 559.98,457.3 559.98,479.1 560.48,462 560.48,479.1 560.98,477.1 560.98,460 561.47,476.3 561.47,459.3 561.97,463.1 561.97,481.2 562.47,461.2 562.47,477.6 562.97,481.3 562.97,466.3 563.47,482.9 563.47,466.6 563.97,481.9 563.97,463.6 564.47,481.7 564.47,464.8 564.97,480.6 564.97,462.8 565.47,465.6 565.47,479.6 565.97,460.6 565.97,478.4 566.47,478.8 566.47,461.3 566.97,458.2 566.97,475.2 567.48,471 567.48,456.1 567.99,451.9 567.99,470.4 568.49,460.8 568.49,482 568.99,478.2 568.99,463.1 569.49,482.9 569.49,465 569.98,479.4 569.98,461.4 570.48,464.8 570.48,480.1 570.98,464 570.98,481.1 571.48,483.5 571.48,466 571.98,483.2 571.98,462.3 572.48,466.1 572.48,482.8 572.98,464.4 572.98,484.1 573.48,483.8 573.48,463.8 573.98,476.3 573.98,457.4 574.48,459.7 574.48,480.4 574.98,473.2 574.98,456.2 575.48,467.4 575.48,441.5 575.98,443.2 575.98,469.2 576.48,462.9 576.48,480.9 576.97,481.3 576.97,466.2 577.47,466.6 577.47,483.1 577.97,459.7 577.97,478.6 578.47,464.6 578.47,484.8 578.97,472.5 578.97,485.9 579.47,473.5 579.47,490.7 579.97,472.8 579.97,488.7 580.47,485.6 580.47,466.9 580.97,469.3 580.97,491.2 581.47,487.3 581.47,469.8 581.97,464.8 581.97,482.8 582.47,485.1 582.47,467.2 582.98,484.1 582.98,468.2 583.49,482.7 583.49,465 583.99,478.5 583.99,456.2 584.49,476.6 584.49,461.7 584.99,463.9 584.99,481.4 585.48,484 585.48,465.7 585.98,465 585.98,480.7 586.48,471.7 586.48,488.2 586.98,465.7 586.98,484.4 587.48,466.2 587.48,485.1 587.98,465.1 587.98,481.4 588.48,483.2 588.48,464.8 588.98,467 588.98,484 589.48,468 589.48,484 589.98,481.3 589.98,466.6 590.48,485.1 590.48,466.4 590.98,478.3 590.98,463 591.48,476 591.48,461.7 591.98,469.5 591.98,446.4 592.47,438.4 592.47,458.1 592.97,456.9 592.97,476.8 593.47,475.9 593.47,459.5 593.97,459.9 593.97,475.8 594.47,461.4 594.47,478.4 594.97,460 594.97,479.4 595.47,477.3 595.47,462 595.97,480.5 595.97,464.8 596.47,480.1 596.47,465.7 596.97,480.9 596.97,464.7 597.47,456.5 597.47,473.3 597.97,461.2 597.97,475.9 598.48,478.8 598.48,463.3 598.99,456.3 598.99,474.9 599.49,474.5 599.49,459.8 599.99,471.1 599.99,449.9 600.49,461.3 600.49,444.5 600.99,472.5 600.99,454.9 601.48,456.3 601.48,472.1 601.98,461.9 601.98,478.4 602.48,461.1 602.48,478.1 602.98,459 602.98,477.5 603.48,464.2 603.48,480.2 603.98,482 603.98,461.3 604.48,475.1 604.48,452.1 604.98,459.2 604.98,476 605.48,478.2 605.48,458.8 605.98,481.2 605.98,462 606.48,478.2 606.48,463.3 606.98,475.9 606.98,461.6 607.48,474 607.48,458.4 607.98,458.8 607.98,474.3 608.47,475.8 608.47,459.9 608.97,465.4 608.97,449.3 609.47,442.3 609.47,464.7 609.97,453.8 609.97,469.8 610.47,459.4 610.47,478.1 610.97,474.5 610.97,460.6 611.47,457 611.47,475.4 611.97,460.3 611.97,478.3 612.47,458 612.47,474.1 612.97,481.2 612.97,464.2 613.47,479.5 613.47,462 613.97,455.4 613.97,479.1 614.48,479.4 614.48,460.2 614.99,478.8 614.99,462 615.49,477.9 615.49,462.8 615.99,474.8 615.99,459 616.49,472.7 616.49,451.2 616.98,443.1 616.98,459.2 617.48,451.8 617.48,469.7 617.98,459.8 617.98,474.9 618.48,473.2 618.48,448.4 618.98,453.9 618.98,476.7 619.48,459.5 619.48,476.6 619.98,476.8 619.98,465.2 620.48,481.9 620.48,463.2 620.98,475.4 620.98,454.3 621.48,462.2 621.48,475.8 621.98,453 621.98,476.7 622.48,464.7 622.48,480.3 622.98,475.6 622.98,459.5 623.48,463.9 623.48,477.2 623.97,459.6 623.97,478.9 624.47,475.3 624.47,464.7 624.97,476.5 624.97,452.8 625.47,452.1 625.47,469.3 625.97,456.5 625.97,474.2 626.47,459 626.47,476.9 626.97,474.1 626.97,457.1 627.47,460.2 627.47,477.2 627.97,464 627.97,481.3 628.47,461.2 628.47,479.4 628.97,465.5 628.97,480.3 629.47,482.8 629.47,470.2 629.98,483.8 629.98,468 630.49,466.7 630.49,481.7 630.99,479 630.99,461.9 631.49,462.2 631.49,483.8 631.99,463.6 631.99,482.1 632.48,479.1 632.48,462.9 632.98,462.6 632.98,478.6 633.48,478.9 633.48,459.8 633.98,455.8 633.98,474.4 634.48,459.9 634.48,481.5 634.98,460.8 634.98,479.9 635.48,459.9 635.48,477.3 635.98,475.8 635.98,459.1 636.48,476.6 636.48,460.9 636.98,461.9 636.98,482.7 637.48,478.3 637.48,462.2 637.98,475.2 637.98,459.7 638.48,479.7 638.48,461 638.98,459.2 638.98,476.5 639.47,476.2 639.47,455.7 639.97,478.6 639.97,461.1 640.47,476.2 640.47,459.1 640.97,458.8 640.97,475.9 641.47,473.6 641.47,458 641.97,472.6 641.97,453.3 642.47,454.4 642.47,477.7 642.97,473 642.97,456.4 643.47,454.3 643.47,473.4 643.97,476.5 643.97,461.3 644.47,477.5 644.47,460.5 644.97,476.6 644.97,459.7 645.48,462 645.48,475.3 645.99,481.6 645.99,462.7 646.49,479.1 646.49,459 646.99,455.6 646.99,477.1 647.49,460.4 647.49,476.8 647.99,477.3 647.99,459.7 648.48,477.7 648.48,458.5 648.98,457.7 648.98,475.5 649.48,478.1 649.48,460 649.98,473 649.98,455.3 650.48,464.1 650.48,447.3 650.98,454.7 650.98,469.7 651.48,454.1 651.48,471.9 651.98,461 651.98,475.1 652.48,458.9 652.48,474.7 652.98,455.5 652.98,471.5 653.48,451.9 653.48,469.7 653.98,458 653.98,478.7 654.48,473.2 654.48,458.6 654.97,469.9 654.97,456.6 655.47,457 655.47,473.1 655.97,467.8 655.97,451.7 656.47,455.7 656.47,473.3 656.97,474.8 656.97,457.6 657.47,455.8 657.47,473.8 657.97,471.1 657.97,458.9 658.47,469.7 658.47,450.4 658.97,467.5 658.97,446.8 659.47,443.8 659.47,465 659.97,452.1 659.97,471.7 660.47,452.7 660.47,469 660.97,471.9 660.97,453.8 661.48,454.4 661.48,471.7 661.99,456 661.99,473 662.49,474.4 662.49,457 662.99,457.8 662.99,474.4 663.49,475.3 663.49,455.6 663.98,452.9 663.98,468.6 664.48,450.9 664.48,466.9 664.98,456.5 664.98,471.2 665.48,472.4 665.48,453.4 665.98,469.4 665.98,452.1 666.48,465.4 666.48,442.5 666.98,456.6 666.98,435.8 667.48,449.2 667.48,463 667.98,453.1 667.98,470.2 668.48,456.4 668.48,472.8 668.98,455.3 668.98,472 669.48,473.7 669.48,454.8 669.98,453.3 669.98,470.8 670.48,475.1 670.48,459.5 670.97,461.2 670.97,476.8 671.47,459.3 671.47,475.2 671.97,475.4 671.97,457 672.47,455.2 672.47,472 672.97,458.4 672.97,475.6 673.47,471.4 673.47,453.3 673.97,456.2 673.97,470 674.47,469.2 674.47,449.1 674.97,458.1 674.97,433 675.47,436.1 675.47,467.2 675.97,450.4 675.97,467.7 676.47,458.5 676.47,474.9 676.98,475.8 676.98,455.8 677.49,458 677.49,474.1 677.99,462.4 677.99,477.1 678.49,463.1 678.49,481.3 678.99,453.2 678.99,471.6 679.48,464.7 679.48,480.2 679.98,466.6 679.98,482.2 680.48,479.6 680.48,464.4 680.98,478.9 680.98,459.8 681.48,474.6 681.48,457.1 681.98,460.8 681.98,475.9 682.48,473.6 682.48,458.1 682.98,475.3 682.98,453.7 683.48,466.5 683.48,450 683.98,446.9 683.98,466.3 684.48,471.1 684.48,457 684.98,470.6 684.98,457.3 685.48,456.6 685.48,475.5 685.98,471.2 685.98,456.5 686.47,473.9 686.47,457.4 686.97,473.2 686.97,457.6 687.47,474.7 687.47,460.2 687.97,472.7 687.97,460.3 688.47,472.1 688.47,456.2 688.97,471.1 688.97,453.9 689.47,456.3 689.47,469.8 689.97,472.2 689.97,456.8 690.47,474.1 690.47,456.6 690.97,470.1 690.97,452.2 691.47,465.4 691.47,440.3 691.97,437.9 691.97,464.6 692.48,448.1 692.48,471.2 692.99,456.9 692.99,473.8 693.49,454.2 693.49,472.3 693.99,456 693.99,474.1 694.49,473.7 694.49,456.5 694.99,453.2 694.99,472.7 695.48,459.4 695.48,476.5 695.98,463 695.98,477.2 696.48,476.8 696.48,460.7 696.98,452.8 696.98,472 697.48,473.2 697.48,456.9 697.98,473.7 697.98,455.6 698.48,469.2 698.48,456.3 698.98,471.5 698.98,452.4 699.48,467.1 699.48,452.1 699.98,463.8 699.98,445.3 700.48,443.1 700.48,461.2 700.98,446.6 700.98,468 701.48,448.8 701.48,461.2 701.97,455.3 701.97,468.4 702.47,452.4 702.47,469 702.97,452.3 702.97,466.9 703.47,450 703.47,466.7 703.97,450.6 703.97,468 704.47,443.6 704.47,466.1 704.97,452 704.97,467.1 705.47,467.7 705.47,452.5 705.97,449.7 705.97,468.1 706.47,451.8 706.47,469.6 706.97,465 706.97,449.9 707.47,448.7 707.47,467.4 707.98,462.1 707.98,446.2 708.49,451 708.49,428.1 708.99,429.9 708.99,454.2 709.49,445.6 709.49,463.8 709.99,453.3 709.99,469.9 710.49,450.5 710.49,465.9 710.98,447 710.98,467.8 711.48,469.1 711.48,455.7 711.98,454.4 711.98,469.4 712.48,450.9 712.48,470.8 712.98,456.4 712.98,470.4 713.48,468.4 713.48,453.8 713.98,453.8 713.98,473.3 714.48,467.4 714.48,456.3 714.98,467.4 714.98,456.1 715.48,467.6 715.48,452.2 715.98,467.6 715.98,451.7 716.48,467.4 716.48,450.3 716.98,441.3 716.98,457.1 717.48,446.5 717.48,470 717.97,453.5 717.97,471.2 718.47,472.5 718.47,453.9 718.97,471.9 718.97,458.1 719.47,471.5 719.47,456.4 719.97,455.1 719.97,474.9 720.47,480.1 720.47,454.5 720.97,453.2 720.97,467.7 721.47,446.1 721.47,469.4 721.97,454 721.97,469.9 722.47,471.5 722.47,455 722.97,469.4 722.97,453 723.47,470.6 723.47,450.2 723.98,467.4 723.98,448.4 724.49,465.6 724.49,442.1 724.99,435.2 724.99,460.5 725.49,447.3 725.49,463.3 725.99,448.2 725.99,464.2 726.48,464.2 726.48,446.1 726.98,451.3 726.98,465.1 727.48,469.3 727.48,453.3 727.98,449.6 727.98,464.8 728.48,465.3 728.48,446.7 728.98,465.8 728.98,446.8 729.48,447.8 729.48,463.8 729.98,444.8 729.98,462.2 730.48,462.8 730.48,445.3 730.98,449.5 730.98,463.3 731.48,466.2 731.48,450 731.98,446.6 731.98,462.5 732.48,463 732.48,443.7 732.98,457.3 732.98,441.4 733.47,428.4 733.47,447.4 733.97,440.5 733.97,459.1 734.47,450.9 734.47,465.7 734.97,449.4 734.97,462.1 735.47,448.6 735.47,462.9 735.97,449.1 735.97,468.3 736.47,465.9 736.47,454 736.97,454.1 736.97,469.6 737.47,471.9 737.47,453.1 737.97,466.4 737.97,451.4 738.47,447.8 738.47,466.4 738.97,453.5 738.97,467.7 739.48,466.4 739.48,449.6 739.99,465.2 739.99,450.5 740.49,466.4 740.49,449.1 740.99,459.7 740.99,435.5 741.49,445.3 741.49,425.8 741.99,434 741.99,454.9 742.48,444.7 742.48,464.1 742.98,460.1 742.98,446.6 743.48,466.8 743.48,450.6 743.98,467.6 743.98,451.4 744.48,449.1 744.48,465.1 744.98,465.6 744.98,451.6 745.48,465 745.48,448.7 745.98,451.6 745.98,469.5 746.48,466.1 746.48,449.7 746.98,445.3 746.98,463.2 747.48,468.2 747.48,450.6 747.98,466.4 747.98,449.7 748.48,466.4 748.48,449.1 748.97,449.4 748.97,464.1 749.47,459.7 749.47,446.4 749.97,453.7 749.97,437.5 750.47,444.3 750.47,463.2 750.97,447 750.97,464.5 751.47,448.4 751.47,467.4 751.97,472.1 751.97,450.6 752.47,466.6 752.47,453.4 752.97,467.7 752.97,452.3 753.47,451.3 753.47,469.3 753.97,451.7 753.97,467.1 754.47,466.2 754.47,451.8 754.98,469.1 754.98,447.3 755.49,463.5 755.49,444 755.99,449 755.99,464 756.49,449.4 756.49,467.6 756.99,446.2 756.99,463.9 757.49,463.1 757.49,442.5 757.98,440.8 757.98,457.1 758.48,443 758.48,461.1 758.98,445.7 758.98,462.4 759.48,461.6 759.48,444.7 759.98,462 759.98,446.2 760.48,446.4 760.48,462.3 760.98,466.9 760.98,444.2 761.48,459.5 761.48,437.5 761.98,439.9 761.98,461.1 762.48,448.2 762.48,460.2 762.98,459.4 762.98,446 763.48,446.1 763.48,463.5 763.98,443.5 763.98,459.5 764.48,460.8 764.48,438.7 764.97,441 764.97,460 765.47,456.9 765.47,440.7 765.97,456.6 765.97,440.7 766.47,453.7 766.47,433.3 766.97,440.5 766.97,457.3 767.47,463.1 767.47,443.6 767.97,463.1 767.97,447.4 768.47,445.6 768.47,463 768.97,464.4 768.97,452 769.47,465 769.47,450.5 769.97,466.7 769.97,448.4 770.47,452 770.47,469.2 770.98,469.5 770.98,449.7 771.49,466.8 771.49,450 771.99,452.4 771.99,466.9 772.49,466.8 772.49,447 772.99,443.3 772.99,460.7 773.48,463.9 773.48,446.7 773.98,462.1 773.98,447.6 774.48,457.8 774.48,439.9 774.98,450.5 774.98,430.7 775.48,438.8 775.48,458.3 775.98,459.9 775.98,444.1 776.48,445.4 776.48,460.2 776.98,445 776.98,461.5 777.48,465.3 777.48,447.7 777.98,463.5 777.98,444.4 778.48,443.3 778.48,463.9 778.98,462.9 778.98,446.7 779.48,459.6 779.48,446.6 779.98,445.7 779.98,463.6 780.47,463 780.47,445 780.97,444.4 780.97,462 781.47,461.1 781.47,445.5 781.97,459.7 781.97,442.1 782.47,455.8 782.47,439.6 782.97,443.3 782.97,419.2 783.47,429.1 783.47,452.7 783.97,440.6 783.97,458.9 784.47,440.8 784.47,460.2 784.97,449.6 784.97,461.4 785.47,451.4 785.47,466 785.97,468.5 785.97,450.5 786.48,454.7 786.48,468 786.99,469.3 786.99,453.7 787.49,452.7 787.49,469.3 787.99,471 787.99,452.9 788.49,468.1 788.49,449.9 788.99,451.7 788.99,469.4 789.48,453.4 789.48,467.3 789.98,467.9 789.98,446.8 790.48,464.7 790.48,445.7 790.98,458.5 790.98,438.1 791.48,437.8 791.48,456.1 791.98,447.6 791.98,464.1 792.48,450.3 792.48,468.3 792.98,468.5 792.98,449.3 793.48,443.1 793.48,466.1 793.98,462.9 793.98,449.3 794.48,455.4 794.48,471.1 794.98,473.6 794.98,454.9 795.48,453.8 795.48,467.4 795.97,454.9 795.97,467.9 796.47,452.1 796.47,469.2 796.97,464.8 796.97,450.6 797.47,466.4 797.47,450.9 797.97,457.9 797.97,474 798.47,469 798.47,449.7 798.97,463.7 798.97,447.6 799.47,460.6 799.47,441.3 799.97,442.3 799.97,462.4 800.47,448.6 800.47,463.3 800.97,448.3 800.97,461.8 801.47,444.1 801.47,459.9 801.98,448.7 801.98,464.5 802.49,461.9 802.49,443.6 802.99,462.5 802.99,446.3 803.49,459.7 803.49,443.5 803.99,443 803.99,461.5 804.49,462.6 804.49,441.6 804.98,442.2 804.98,462.2 805.48,442.8 805.48,461.8 805.98,444.2 805.98,459.1 806.48,460.3 806.48,442.6 806.98,458.7 806.98,439.7 807.48,455.7 807.48,438.5 807.98,446.9 807.98,429.3 808.48,438.1 808.48,455 808.98,441.3 808.98,456 809.48,442.3 809.48,458.6 809.98,458.2 809.98,441.4 810.48,445.2 810.48,459.2 810.98,446.4 810.98,462.5 811.48,448.8 811.48,465.1 811.97,450.5 811.97,465 812.47,465.6 812.47,452.6 812.97,463 812.97,446.3 813.47,444.7 813.47,463.1 813.97,444.9 813.97,462.6 814.47,458.3 814.47,439.9 814.97,435.9 814.97,456.4 815.47,454.1 815.47,435.1 815.97,442.1 815.97,424.2 816.47,415.6 816.47,439.5 816.97,431.4 816.97,451.7 817.47,439.5 817.47,453.3 817.98,439.3 817.98,456.2 818.49,441.8 818.49,459.4 818.99,466.6 818.99,442.4 819.49,440.7 819.49,457.6 819.99,454.4 819.99,433.1 820.48,439.4 820.48,459.2 820.98,438.9 820.98,458.4 821.48,442.3 821.48,460.6 821.98,461.7 821.98,442.8 822.48,463.2 822.48,443.8 822.98,459.1 822.98,444 823.48,443.1 823.48,460.4 823.98,457.8 823.98,439.8 824.48,435.5 824.48,454.7 824.98,440 824.98,455.9 825.48,442.6 825.48,461.3 825.98,444.7 825.98,459.5 826.48,447.1 826.48,463 826.98,447.3 826.98,462.5 827.47,450.9 827.47,464 827.97,461 827.97,442.8 828.47,447.2 828.47,464.5 828.97,464.7 828.97,451.2 829.47,465 829.47,447.2 829.97,466.3 829.97,449.6 830.47,463.2 830.47,443.7 830.97,461.5 830.97,445.9 831.47,461.1 831.47,445.4 831.97,459.8 831.97,440.5 832.47,456.1 832.47,440.5 832.97,455.7 832.97,437.7 833.48,456.3 833.48,440.3 833.99,458 833.99,438 834.49,442.6 834.49,457.5 834.99,455.9 834.99,439.5 835.49,440 835.49,451.7 835.98,441.2 835.98,456.9 836.48,458.7 836.48,442.1 836.98,458.5 836.98,440.8 837.48,457.4 837.48,439.5 837.98,442.6 837.98,458.5 838.48,442.9 838.48,456 838.98,455.2 838.98,431.7 839.48,435.2 839.48,453.2 839.98,453 839.98,439 840.48,435.2 840.48,455.9 840.98,448.9 840.98,428.1 841.48,433.1 841.48,450.5 841.98,438.5 841.98,455.5 842.48,439.9 842.48,459.9 842.97,458.8 842.97,441.5 843.47,440.7 843.47,457.5 843.97,438.1 843.97,456.6 844.47,440.4 844.47,460.6 844.97,460.9 844.97,444.6 845.47,437.7 845.47,460.6 845.97,459.7 845.97,444.5 846.47,438.7 846.47,457.1 846.97,434.2 846.97,454.3 847.47,443.4 847.47,454.5 847.97,455 847.97,438.4 848.47,449.7 848.47,426.6 848.98,439.3 848.98,407.3 849.49,420.9 849.49,444.7 849.99,449.4 849.99,434.1 850.49,438.6 850.49,458 850.99,455.6 850.99,436.1 851.49,442.8 851.49,459 851.98,446.2 851.98,459.9 852.48,448.7 852.48,462.2 852.98,445.7 852.98,464.9 853.48,462.2 853.48,446.9 853.98,461.9 853.98,444.1 854.48,446.3 854.48,462.2 854.98,458.8 854.98,446.1 855.48,442.6 855.48,460.1 855.98,442.8 855.98,458.3 856.48,457.5 856.48,440.8 856.98,454.1 856.98,435.1 857.48,429.9 857.48,447.3 857.98,437.5 857.98,454.2 858.48,442.5 858.48,461.9 858.97,458.4 858.97,445.3 859.47,459.3 859.47,442.9 859.97,459.8 859.97,442.1 860.47,442.4 860.47,459.7 860.97,444 860.97,458.2 861.47,442.1 861.47,457.7 861.97,459.8 861.97,436 862.47,438.3 862.47,457.8 862.97,458.8 862.97,442.4 863.47,444.7 863.47,462.5 863.97,456.9 863.97,442.1 864.47,461.4 864.47,442.7 864.75,445.9 864.75,457.6"/>
<path class="tk" d="M202.5,519.5 v5 M285.5,519.5 v5 M367.5,519.5 v5 M450.5,519.5 v5 M533.5,519.5 v5 M616.5,519.5 v5 M699.5,519.5 v5 M782.5,519.5 v5 M865.5,519.5 v5 M125.5,517.5 h-5 M125.5,478.5 h-5 M125.5,439.5 h-5"/>
<text class="t" transform="translate(169.65,556.02) rotate(-30)" textLength="35.00" lengthAdjust="spacingAndGlyphs">2020</text>
<text class="t" transform="translate(252.55,556.02) rotate(-30)" textLength="35.00" lengthAdjust="spacingAndGlyphs">2030</text>
<text class="t" transform="translate(335.43,556.02) rotate(-30)" textLength="35.00" lengthAdjust="spacingAndGlyphs">2040</text>
<text class="t" transform="translate(418.33,556.02) rotate(-30)" textLength="35.00" lengthAdjust="spacingAndGlyphs">2050</text>
<text class="t" transform="translate(501.21,556.02) rotate(-30)" textLength="35.00" lengthAdjust="spacingAndGlyphs">2060</text>
<text class="t" transform="translate(584.11,556.02) rotate(-30)" textLength="35.00" lengthAdjust="spacingAndGlyphs">2070</text>
<text class="t" transform="translate(666.99,556.02) rotate(-30)" textLength="35.00" lengthAdjust="spacingAndGlyphs">2080</text>
<text class="t" transform="translate(749.89,556.02) rotate(-30)" textLength="35.00" lengthAdjust="spacingAndGlyphs">2090</text>
<text class="t" transform="translate(832.77,556.02) rotate(-30)" textLength="35.00" lengthAdjust="spacingAndGlyphs">2100</text>
<text class="t" x="113.40" y="523.05" text-anchor="end" textLength="33.10" lengthAdjust="spacingAndGlyphs">7500</text>
<text class="t" x="113.40" y="484.05" text-anchor="end" textLength="33.10" lengthAdjust="spacingAndGlyphs">7600</text>
<text class="t" x="113.40" y="445.05" text-anchor="end" textLength="33.10" lengthAdjust="spacingAndGlyphs">7700</text>
<text class="t" transform="translate(70.60,461.50) rotate(-90)" text-anchor="middle" textLength="59.50" lengthAdjust="spacingAndGlyphs">fieldmax</text>
<rect class="sp" x="125.5" y="401.5" width="775" height="118"/>
</g>
<g id="ax3">
<rect x="125.0" y="542.07" width="775.0" height="117.24" fill="#fff"/>
<path class="ln" d="M160.23,600.69 H864.77"/>
<path class="tk" d="M202.5,659.5 v5 M285.5,659.5 v5 M367.5,659.5 v5 M450.5,659.5 v5 M533.5,659.5 v5 M616.5,659.5 v5 M699.5,659.5 v5 M782.5,659.5 v5 M865.5,659.5 v5 M125.5,654.5 h-5 M125.5,601.5 h-5 M125.5,547.5 h-5"/>
<text class="t" transform="translate(169.65,696.71) rotate(-30)" textLength="35.00" lengthAdjust="spacingAndGlyphs">2020</text>
<text class="t" transform="translate(252.55,696.71) rotate(-30)" textLength="35.00" lengthAdjust="spacingAndGlyphs">2030</text>
<text class="t" transform="translate(335.43,696.71) rotate(-30)" textLength="35.00" lengthAdjust="spacingAndGlyphs">2040</text>
<text class="t" transform="translate(418.33,696.71) rotate(-30)" textLength="35.00" lengthAdjust="spacingAndGlyphs">2050</text>
<text class="t" transform="translate(501.21,696.71) rotate(-30)" textLength="35.00" lengthAdjust="spacingAndGlyphs">2060</text>
<text class="t" transform="translate(584.11,696.71) rotate(-30)" textLength="35.00" lengthAdjust="spacingAndGlyphs">2070</text>
<text class="t" transform="translate(666.99,696.71) rotate(-30)" textLength="35.00" lengthAdjust="spacingAndGlyphs">2080</text>
<text class="t" transform="translate(749.89,696.71) rotate(-30)" textLength="35.00" lengthAdjust="spacingAndGlyphs">2090</text>
<text class="t" transform="translate(832.77,696.71) rotate(-30)" textLength="35.00" lengthAdjust="spacingAndGlyphs">2100</text>
<text class="t" x="113.30" y="659.05" text-anchor="end" textLength="40.30" lengthAdjust="spacingAndGlyphs">−0.05</text>
<text class="t" x="115.28" y="606.05" text-anchor="end" textLength="28.70" lengthAdjust="spacingAndGlyphs">0.00</text>
<text class="t" x="115.28" y="553.05" text-anchor="end" textLength="28.70" lengthAdjust="spacingAndGlyphs">0.05</text>
<text class="t" transform="translate(64.50,603.19) rotate(-90)" text-anchor="middle" textLength="84.25" lengthAdjust="spacingAndGlyphs">nummasked</text>
<rect class="sp" x="125.5" y="542.5" width="775" height="117"/>
</g>
<g id="ax4">
<rect x="125.0" y="682.76" width="775.0" height="117.24" fill="#fff"/>
<path class="ln" d="M160.23,741.38 H864.77"/>
<path class="tk" d="M202.5,800.5 v5 M285.5,800.5 v5 M367.5,800.5 v5 M450.5,800.5 v5 M533.5,800.5 v5 M616.5,800.5 v5 M699.5,800.5 v5 M782.5,800.5 v5 M865.5,800.5 v5 M125.5,795.5 h-5 M125.5,741.5 h-5 M125.5,688.5 h-5"/>
<text class="t" transform="translate(169.65,837.40) rotate(-30)" textLength="35.00" lengthAdjust="spacingAndGlyphs">2020</text>
<text class="t" transform="translate(252.55,837.40) rotate(-30)" textLength="35.00" lengthAdjust="spacingAndGlyphs">2030</text>
<text class="t" transform="translate(335.43,837.40) rotate(-30)" textLength="35.00" lengthAdjust="spacingAndGlyphs">2040</text>
<text class="t" transform="translate(418.33,837.40) rotate(-30)" textLength="35.00" lengthAdjust="spacingAndGlyphs">2050</text>
<text class="t" transform="translate(501.21,837.40) rotate(-30)" textLength="35.00" lengthAdjust="spacingAndGlyphs">2060</text>
<text class="t" transform="translate(584.11,837.40) rotate(-30)" textLength="35.00" lengthAdjust="spacingAndGlyphs">2070</text>
<text class="t" transform="translate(666.99,837.40) rotate(-30)" textLength="35.00" lengthAdjust="spacingAndGlyphs">2080</text>
<text class="t" transform="translate(749.89,837.40) rotate(-30)" textLength="35.00" lengthAdjust="spacingAndGlyphs">2090</text>
<text class="t" transform="translate(832.77,837.40) rotate(-30)" textLength="35.00" lengthAdjust="spacingAndGlyphs">2100</text>
<text class="t" x="113.30" y="800.05" text-anchor="end" textLength="40.30" lengthAdjust="spacingAndGlyphs">−0.05</text>
<text class="t" x="115.28" y="747.05" text-anchor="end" textLength="28.70" lengthAdjust="spacingAndGlyphs">0.00</text>
<text class="t" x="115.28" y="694.05" text-anchor="end" textLength="28.70" lengthAdjust="spacingAndGlyphs">0.05</text>
<text class="t" transform="translate(64.50,743.88) rotate(-90)" text-anchor="middle" textLength="56.10" lengthAdjust="spacingAndGlyphs">numnan</text>
<text class="t" x="512.5" y="855.70" text-anchor="middle" textLength="64.9" lengthAdjust="spacingAndGlyphs">validtime</text>
<rect class="sp" x="125.5" y="683.5" width="775" height="117"/>
</g>
</svg>
</body></html>
